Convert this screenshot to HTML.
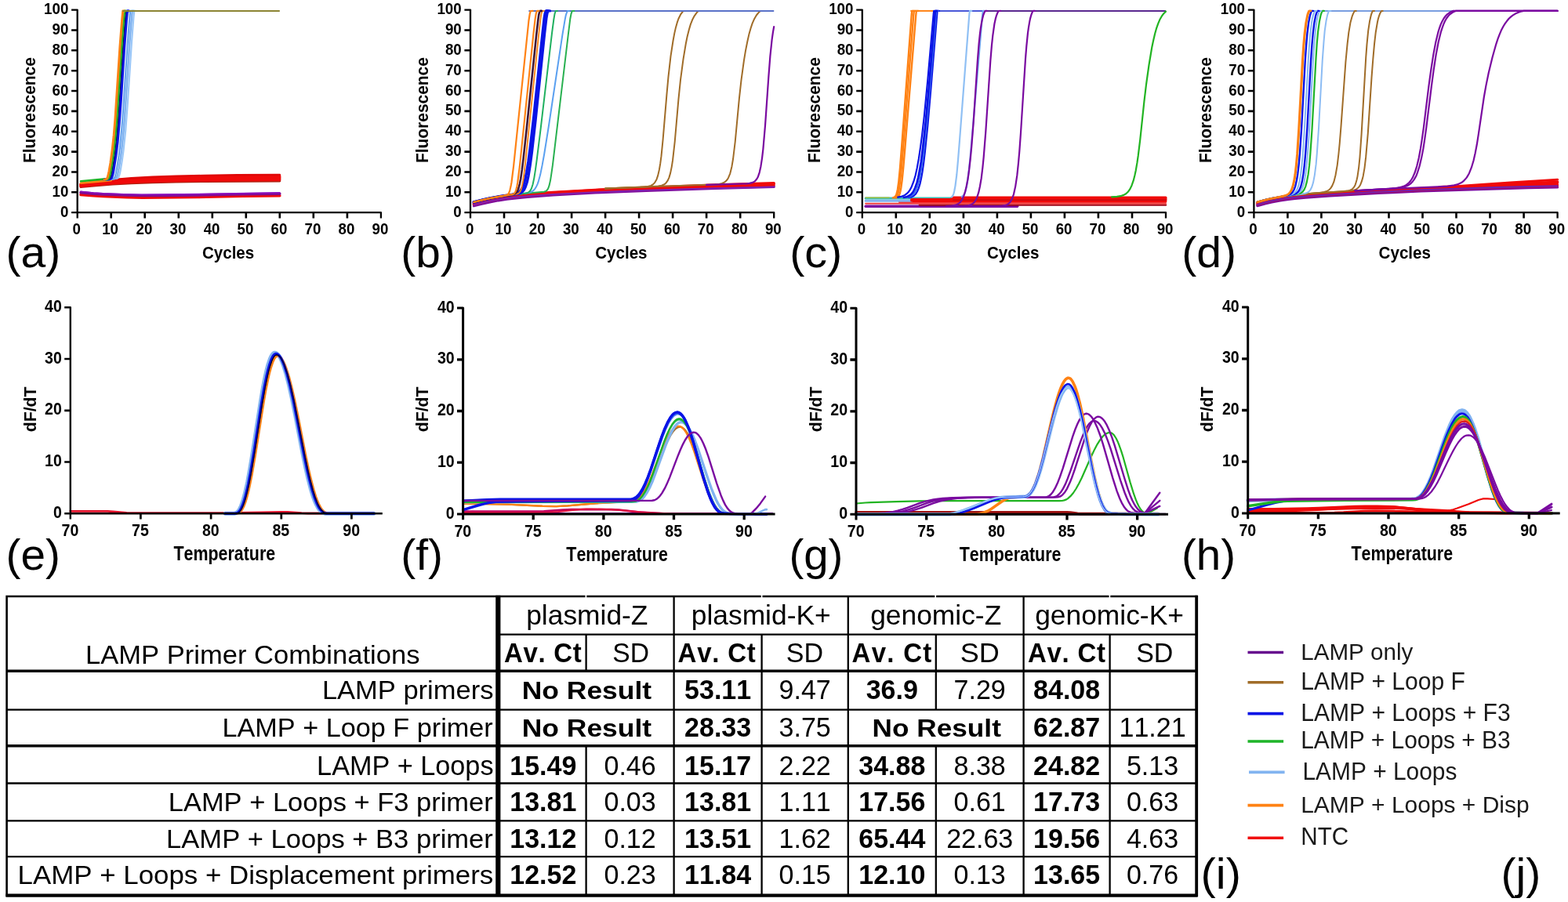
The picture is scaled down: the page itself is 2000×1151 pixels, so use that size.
<!DOCTYPE html>
<html><head><meta charset="utf-8"><title>LAMP primer combinations figure</title>
<style>html,body{margin:0;padding:0;background:#fff;}svg{display:block;filter:blur(0.45px);font-family:'Liberation Sans',Arial,sans-serif;font-kerning:none;}</style>
</head><body>
<svg width="2000" height="1151" viewBox="0 0 2000 1151">
<rect width="2000" height="1151" fill="#fff"/>
<g><polyline points="103,248.4 119.3,249.7 131.8,250.5 161.5,251.7 181.7,252.1 251.9,251.5 309.9,250.3 356.8,249.7" fill="none" stroke="#f00a0a" stroke-width="3.6" stroke-linejoin="round" stroke-linecap="round"/><polyline points="103,245.6 119.3,247.1 131.8,247.9 160.6,249 181.3,249.5 209.7,249.4 251.9,248.9 309.9,247.7 356.8,247.2" fill="none" stroke="#820a90" stroke-width="3.6" stroke-linejoin="round" stroke-linecap="round"/><polyline points="103,244.3 119.3,246 131,246.8 158.1,247.8 180,248.2 208.8,248.1 257.9,247.6 356.8,245.9" fill="none" stroke="#8a10c0" stroke-width="1.6" stroke-linejoin="round" stroke-linecap="round"/><polyline points="103,238.6 122.4,236.7 143.9,235.1 167.5,233.8 194.6,232.8 224.7,232 260.5,231.5 356.8,230.9" fill="none" stroke="#b02010" stroke-width="3.0" stroke-linejoin="round" stroke-linecap="round"/><polyline points="103,237.6 122.4,235.5 143.9,233.8 167.5,232.4 194.6,231.3 224.7,230.5 260.5,230 356.8,229.3" fill="none" stroke="#f00a0a" stroke-width="3.4" stroke-linejoin="round" stroke-linecap="round"/><polyline points="103,236.5 122.4,234.3 143.9,232.4 167.5,230.9 194.6,229.7 224.7,228.8 260.5,228.2 303,227.8 356.8,227.5" fill="none" stroke="#f00a0a" stroke-width="3.4" stroke-linejoin="round" stroke-linecap="round"/><polyline points="103,235.8 122.4,233.3 143.9,231.3 167.5,229.6 194.6,228.4 224.7,227.4 260.5,226.7 303,226.2 356.8,225.9" fill="none" stroke="#f00a0a" stroke-width="3.4" stroke-linejoin="round" stroke-linecap="round"/><polyline points="103,235 122.4,232.3 143.9,230.1 167.5,228.4 194.6,227 224.7,226 260.5,225.2 303,224.7 356.8,224.4" fill="none" stroke="#f00a0a" stroke-width="3.2" stroke-linejoin="round" stroke-linecap="round"/><polyline points="103,234.5 122.4,231.6 143.9,229.3 167.5,227.4 194.6,225.9 224.7,224.8 260.5,224 303,223.4 356.8,223.1" fill="none" stroke="#e00808" stroke-width="2.6" stroke-linejoin="round" stroke-linecap="round"/><polyline points="103,233.6 141.7,230.1" fill="none" stroke="#ff8214" stroke-width="2.6" stroke-linejoin="round" stroke-linecap="round"/><polyline points="103,231.2 139.6,227.9" fill="none" stroke="#1eb428" stroke-width="2.6" stroke-linejoin="round" stroke-linecap="round"/><polyline points="133.1,229.3 147.7,228 149.5,227.6 150.3,227.2 151.2,226.3 152,224.4 152.9,221.3 153.8,216.9 155.9,203.8 157.6,191.5 160.2,166.6 162.8,132.5 168,53.1 170.5,21.1 171.4,13.9 173.1,13.9" fill="none" stroke="#9cc8f8" stroke-width="2.2" stroke-linejoin="round" stroke-linecap="round"/><polyline points="133.1,229.3 145.2,228.2 146.9,227.8 147.7,227.4 148.6,226.5 149,225.7 149.9,223.3 151.6,214.7 153.8,201.2 155.1,191.7 156.8,176.1 158.1,161.8 160.2,132.7 165.4,53.3 168,21.4 168.8,13.9 170.5,13.9" fill="none" stroke="#82b4f0" stroke-width="2.6" stroke-linejoin="round" stroke-linecap="round"/><polyline points="133.1,229.3 143,228.4 144.7,227.9 145.6,227.3 146.5,226 146.9,224.9 147.7,221.7 149.9,209.7 151.6,198.5 152.9,188.4 155.5,162 157.6,133 162.4,59.7 165,26.3 166.2,13.9 168,13.9" fill="none" stroke="#6aa6ee" stroke-width="2.2" stroke-linejoin="round" stroke-linecap="round"/><polyline points="133.1,229.3 138.7,228.8 140.4,228.4 141.7,227.6 142.6,226.3 143.4,223.8 144.3,220 147.7,198.8 149.9,181 152,157 154.2,126.9 158.5,60.1 161.1,26.6 162.4,13.9 164.1,13.9" fill="none" stroke="#0a14e6" stroke-width="3.4" stroke-linejoin="round" stroke-linecap="round"/><polyline points="133.1,229.3 137.4,228.9 139.1,228.4 140.4,227.2 141.3,225.4 142.2,222.2 143.4,215.4 146.5,195.8 148.6,176.9 150.8,151.6 156.8,60.2 159.4,26.8 160.6,13.9 162.4,13.9" fill="none" stroke="#101060" stroke-width="1.4" stroke-linejoin="round" stroke-linecap="round"/><polyline points="133.1,229.3 136.1,228.9 137.4,228.5 138.3,227.7 138.7,227.1 139.6,224.9 140.4,221.4 141.7,214.3 144.7,194.3 146.9,174.8 148.6,154.6 150.3,130.5 155.1,57.3 157.2,29.4 158.5,15.8 158.9,13.9 160.6,13.9" fill="none" stroke="#1eb428" stroke-width="3.0" stroke-linejoin="round" stroke-linecap="round"/><polyline points="133.1,229.3 134.8,228.9 136.1,228.1 137,226.8 137.8,224.3 139.1,218.2 140.9,207.9 143.4,189.3 145.2,172.7 146.9,151.9 152.9,60.6 155.5,27.1 156.8,13.9 158.9,13.9" fill="none" stroke="#ff8214" stroke-width="3.0" stroke-linejoin="round" stroke-linecap="round"/><path d="M156.3 13.9H356.8" stroke="#8c8434" stroke-width="2.0"/></g><path d="M91.1 12.6H98.7V278.4" fill="none" stroke="#000" stroke-width="2.3" stroke-linejoin="round"/><path d="M91.1 271.2H485.9V278.4" fill="none" stroke="#000" stroke-width="2.3" stroke-linejoin="round"/><path d="M91.1 245.3H98.7M91.1 219.5H98.7M91.1 193.6H98.7M91.1 167.8H98.7M91.1 141.9H98.7M91.1 116H98.7M91.1 90.2H98.7M91.1 64.3H98.7M91.1 38.5H98.7M141.7 271.2V278.4M184.7 271.2V278.4M227.8 271.2V278.4M270.8 271.2V278.4M313.8 271.2V278.4M356.8 271.2V278.4M399.8 271.2V278.4M442.9 271.2V278.4" stroke="#000" stroke-width="2.6"/><g><text transform="matrix(0.9500 0 0 1.0400 77 276.7)" font-size="19.7" font-weight="bold">0</text><text transform="matrix(0.9500 0 0 1.0400 66.6 250.8)" font-size="19.7" font-weight="bold">10</text><text transform="matrix(0.9500 0 0 1.0400 66.6 225)" font-size="19.7" font-weight="bold">20</text><text transform="matrix(0.9500 0 0 1.0400 66.6 199.1)" font-size="19.7" font-weight="bold">30</text><text transform="matrix(0.9500 0 0 1.0400 66.6 173.3)" font-size="19.7" font-weight="bold">40</text><text transform="matrix(0.9500 0 0 1.0400 66.6 147.4)" font-size="19.7" font-weight="bold">50</text><text transform="matrix(0.9500 0 0 1.0400 66.6 121.5)" font-size="19.7" font-weight="bold">60</text><text transform="matrix(0.9500 0 0 1.0400 66.6 95.7)" font-size="19.7" font-weight="bold">70</text><text transform="matrix(0.9500 0 0 1.0400 66.6 69.8)" font-size="19.7" font-weight="bold">80</text><text transform="matrix(0.9500 0 0 1.0400 66.6 44)" font-size="19.7" font-weight="bold">90</text><text transform="matrix(0.9500 0 0 1.0400 56.1 18.1)" font-size="19.7" font-weight="bold">100</text><text transform="matrix(0.9500 0 0 1.0400 92.6 299.1)" font-size="19.7" font-weight="bold">0</text><text transform="matrix(0.9500 0 0 1.0400 130.2 299.1)" font-size="19.7" font-weight="bold">10</text><text transform="matrix(0.9500 0 0 1.0400 173.5 299.1)" font-size="19.7" font-weight="bold">20</text><text transform="matrix(0.9500 0 0 1.0400 216.6 299.1)" font-size="19.7" font-weight="bold">30</text><text transform="matrix(0.9500 0 0 1.0400 259.7 299.1)" font-size="19.7" font-weight="bold">40</text><text transform="matrix(0.9500 0 0 1.0400 302.6 299.1)" font-size="19.7" font-weight="bold">50</text><text transform="matrix(0.9500 0 0 1.0400 345.6 299.1)" font-size="19.7" font-weight="bold">60</text><text transform="matrix(0.9500 0 0 1.0400 388.5 299.1)" font-size="19.7" font-weight="bold">70</text><text transform="matrix(0.9500 0 0 1.0400 431.6 299.1)" font-size="19.7" font-weight="bold">80</text><text transform="matrix(0.9500 0 0 1.0400 474.6 299.1)" font-size="19.7" font-weight="bold">90</text></g><text transform="matrix(0.6863 0 0 0.7314 257.9 329.9)" font-size="30" font-weight="bold">Cycles</text><text transform="translate(44.5 208.1) rotate(-90) scale(0.9526 0.9849)" font-size="22" font-weight="bold">Fluorescence</text><g><polyline points="604.3,262.9 614.6,260.2 623.7,258.2 635.7,255.9 646.5,254.3 658.1,252.9 672.7,251.5 705.4,249.1 759.2,246.1 824.1,243.5 912.3,240.5 987.2,238.6" fill="none" stroke="#7a0aa0" stroke-width="3.0" stroke-linejoin="round" stroke-linecap="round"/><polyline points="604.3,261.6 614.6,258.9 623.7,256.9 635.7,254.6 646.5,253 658.1,251.6 672.7,250.2 705.4,247.8 759.2,244.8 824.1,242.2 912.3,239.2 987.2,237.3" fill="none" stroke="#a01070" stroke-width="3.0" stroke-linejoin="round" stroke-linecap="round"/><polyline points="604.3,260.3 614.6,257.6 623.7,255.6 635.7,253.3 646.5,251.7 658.1,250.3 672.7,248.9 705.4,246.5 759.2,243.6 824.1,240.9 912.3,237.9 987.2,236" fill="none" stroke="#f00a0a" stroke-width="3.0" stroke-linejoin="round" stroke-linecap="round"/><polyline points="604.3,259 614.6,256.3 623.7,254.3 635.7,252.1 646.5,250.4 658.1,249 672.7,247.6 705.4,245.2 759.2,242.3 824.1,239.6 912.3,236.6 987.2,234.7" fill="none" stroke="#f00a0a" stroke-width="3.0" stroke-linejoin="round" stroke-linecap="round"/><polyline points="604.3,260.3 614.6,257.5 623.7,255.5 635.7,253.1 646.5,251.4 658.1,250 672.7,248.5 705.4,245.9 759.2,242.6 824.1,239.5 912.3,236 987.2,233.7" fill="none" stroke="#f00a0a" stroke-width="3.4" stroke-linejoin="round" stroke-linecap="round"/><polyline points="604.3,261.4 614.6,258.7 623.7,256.7 635.7,254.5 646.5,252.9 658.1,251.6 672.7,250.2 705.4,248 759.2,245.2 824.1,242.8 912.3,240.2 987.2,238.6" fill="none" stroke="#8020b0" stroke-width="2.0" stroke-linejoin="round" stroke-linecap="round"/><polyline points="772.1,240.6 816.8,238.8 822.4,238.4 826.3,237.9 830.2,236.9 831.9,236 833.2,235.1 835.3,232.8 837.5,228.9 839.2,223.9 840.9,216.5 842.2,208.9 843.5,199.2 845.6,178 850.4,120.8 852.5,97.8 855.5,71.6 858.6,51.5 860.3,42.4 862,34.9 863.7,28.9 865.4,24 868,18.7 870.6,15.1 871.9,13.9 874,13.9" fill="none" stroke="#a06c28" stroke-width="2.0" stroke-linejoin="round" stroke-linecap="round"/><polyline points="772.1,240.6 829.7,238.3 839.6,237.6 843.9,236.7 846.9,235.5 848.2,234.6 849.5,233.4 851.7,230.4 853.4,226.6 855.1,220.9 856.8,212.6 858.1,204.2 860.7,181 865.4,127.1 868,101.9 871.5,75.6 874.9,55.2 876.6,46.8 878.8,38 880.9,30.9 883.1,25.3 885.7,20.3 888.7,16.1 890.8,14 891.2,13.9 893.4,13.9" fill="none" stroke="#a06c28" stroke-width="2.0" stroke-linejoin="round" stroke-linecap="round"/><polyline points="772.1,240.6 821.1,238.6 911.9,235.4 917.1,234.9 920.9,234 923.9,232.7 926.5,230.5 927.8,228.9 929.1,226.7 931.3,221.3 933.4,212.7 935.1,202.5 937.7,181 942.9,125.7 945.5,102.1 948.9,77.4 951,64.6 953.2,53.5 955.3,44.1 957.5,36.2 959.6,29.9 961.8,24.8 964.8,19.5 967.8,15.8 970,13.9 972.6,13.9" fill="none" stroke="#a06c28" stroke-width="2.0" stroke-linejoin="round" stroke-linecap="round"/><polyline points="901.1,235.9 947.2,234.5 952.8,234.3 956.2,233.9 960.1,232.9 962.7,231.4 964.8,229.1 966.1,227 967,225.2 968.7,220.1 970.4,212.4 972.1,201.3 973.4,190.1 976,160.1 980.3,98.5 982.4,71.5 984.6,50.7 985.9,41.4 987.2,34" fill="none" stroke="#7a0aa0" stroke-width="2.2" stroke-linejoin="round" stroke-linecap="round"/><path d="M674.4 13.9H987.2" stroke="#5a72c8" stroke-width="2.0"/><polyline points="604.3,258 613.8,255.5 622.4,253.5 633.6,251.4 643.5,249.8 661.9,247.6 693.8,244.7 695.5,244.3 696.8,243.6 698.1,242.3 698.9,241 699.8,238.9 700.7,236.1 702,230.3 703.2,222.6 705,210.2 724.8,44 727.3,24 728.6,17.3 729.5,14.8 729.9,14 730.4,13.9 732.5,13.9" fill="none" stroke="#28b050" stroke-width="2.0" stroke-linejoin="round" stroke-linecap="round"/><polyline points="604.3,258 619.8,254.1 635.3,251.1 647.3,249.2 669.3,246.8 674.9,245.8 677.9,244.7 680.4,243.1 682.6,240.6 684.3,237.7 685.6,234.8 686.9,231.1 689.1,223.1 691.6,210.9 694.2,196.5 699.8,161.5 717.4,44.4 720.5,25.8 721.7,19.6 723,15.7 723.9,14.2 724.3,13.9 726,13.9" fill="none" stroke="#5aa0f0" stroke-width="2.0" stroke-linejoin="round" stroke-linecap="round"/><polyline points="604.3,258 619.8,254.1 635.3,251.1 647.8,249.2 667.5,247 671.4,246.4 673.6,245.6 675.3,244.5 676.6,242.9 677.9,240.5 679.6,235.2 681.3,227.1 683,216.4 684.7,203.9 689.5,165.4 704.1,41.7 706.3,25 707.5,17.8 708.4,15.1 708.8,14.2 709.3,13.9 711,13.9" fill="none" stroke="#20b060" stroke-width="2.0" stroke-linejoin="round" stroke-linecap="round"/><polyline points="604.3,258 616.3,254.9 627.1,252.6 639.6,250.4 657.6,247.9 661.9,247 664.5,245.9 666.7,244.3 668.4,242.2 670.1,238.8 672.3,232.1 674,224.3 676.1,211.2 678.3,195.1 683,153.5 694.6,42.3 696.8,23.5 697.7,18.2 698.1,16.3 698.9,14.1 699.4,13.9 701.5,13.9" fill="none" stroke="#0a14e6" stroke-width="3.4" stroke-linejoin="round" stroke-linecap="round"/><polyline points="604.3,258 615.1,255.2 624.5,253.1 638.3,250.6 653.8,248.2 658.1,247.2 661.1,245.9 662.4,244.9 663.7,243.7 665.8,240.6 667.5,236.7 669.7,229.5 671.8,219.3 674,206 676.1,190 680.9,148.9 692.1,42.4 694.2,23.6 695.1,18.2 695.5,16.4 696.4,14.1 696.8,13.9 698.9,13.9" fill="none" stroke="#0a14e6" stroke-width="3.6" stroke-linejoin="round" stroke-linecap="round"/><polyline points="604.3,258 616.8,254.8 628,252.4 641.3,250.1 656.4,248.1 659.4,247.6 661.1,246.9 662.4,245.9 663.7,244.1 664.5,242.2 665.8,237.7 667.1,231 668.4,222.1 670.1,207.9 687.3,42.8 689.5,23.9 690.3,18.4 691.2,15.1 691.6,14.2 692.1,13.9 693.8,13.9" fill="none" stroke="#ff8214" stroke-width="1.8" stroke-linejoin="round" stroke-linecap="round"/><polyline points="604.3,258 615.1,255.2 625,253 637,250.8 651.6,248.6 654.6,248 656.8,247.1 658.5,245.8 659.8,244 661.1,241.2 662.8,235.1 664.1,228.5 665.8,216.9 667.5,203.1 671.8,163.5 684.3,43.1 686.5,24.1 687.3,18.6 688.2,15.2 688.6,14.2 689.1,13.9 690.8,13.9" fill="none" stroke="#401838" stroke-width="2.6" stroke-linejoin="round" stroke-linecap="round"/><polyline points="604.3,258 615.1,255.2 625,253 637.4,250.7 653.3,248.2 655.1,247.5 656.4,246.3 657.2,245 658.1,242.9 659.4,237.8 660.2,233 662.8,213 680.4,43.4 682.6,24.3 683.5,18.7 683.9,16.7 684.7,14.3 685.2,13.9 687.3,13.9" fill="none" stroke="#ff8214" stroke-width="2.2" stroke-linejoin="round" stroke-linecap="round"/><polyline points="604.3,258 613.3,255.6 621.5,253.7 631.4,251.8 643,249.8 645.6,249.2 647.3,248.3 648.6,247 649.5,245.4 650.3,243.1 651.6,237.6 652.5,232.5 655.1,211.9 674.4,26.5 675.7,18 676.6,14.9 677,14 679.6,13.9" fill="none" stroke="#ff8214" stroke-width="2.2" stroke-linejoin="round" stroke-linecap="round"/></g><path d="M592.4 12.6H600V278.4" fill="none" stroke="#000" stroke-width="2.3" stroke-linejoin="round"/><path d="M592.4 271.2H987.2V278.4" fill="none" stroke="#000" stroke-width="2.3" stroke-linejoin="round"/><path d="M592.4 245.3H600M592.4 219.5H600M592.4 193.6H600M592.4 167.8H600M592.4 141.9H600M592.4 116H600M592.4 90.2H600M592.4 64.3H600M592.4 38.5H600M643 271.2V278.4M686 271.2V278.4M729.1 271.2V278.4M772.1 271.2V278.4M815.1 271.2V278.4M858.1 271.2V278.4M901.1 271.2V278.4M944.2 271.2V278.4" stroke="#000" stroke-width="2.6"/><g><text transform="matrix(0.9500 0 0 1.0400 578.3 276.7)" font-size="19.7" font-weight="bold">0</text><text transform="matrix(0.9500 0 0 1.0400 567.9 250.8)" font-size="19.7" font-weight="bold">10</text><text transform="matrix(0.9500 0 0 1.0400 567.9 225)" font-size="19.7" font-weight="bold">20</text><text transform="matrix(0.9500 0 0 1.0400 567.9 199.1)" font-size="19.7" font-weight="bold">30</text><text transform="matrix(0.9500 0 0 1.0400 567.9 173.3)" font-size="19.7" font-weight="bold">40</text><text transform="matrix(0.9500 0 0 1.0400 567.9 147.4)" font-size="19.7" font-weight="bold">50</text><text transform="matrix(0.9500 0 0 1.0400 567.9 121.5)" font-size="19.7" font-weight="bold">60</text><text transform="matrix(0.9500 0 0 1.0400 567.9 95.7)" font-size="19.7" font-weight="bold">70</text><text transform="matrix(0.9500 0 0 1.0400 567.9 69.8)" font-size="19.7" font-weight="bold">80</text><text transform="matrix(0.9500 0 0 1.0400 567.9 44)" font-size="19.7" font-weight="bold">90</text><text transform="matrix(0.9500 0 0 1.0400 557.4 18.1)" font-size="19.7" font-weight="bold">100</text><text transform="matrix(0.9500 0 0 1.0400 593.9 299.1)" font-size="19.7" font-weight="bold">0</text><text transform="matrix(0.9500 0 0 1.0400 631.5 299.1)" font-size="19.7" font-weight="bold">10</text><text transform="matrix(0.9500 0 0 1.0400 674.8 299.1)" font-size="19.7" font-weight="bold">20</text><text transform="matrix(0.9500 0 0 1.0400 717.9 299.1)" font-size="19.7" font-weight="bold">30</text><text transform="matrix(0.9500 0 0 1.0400 761 299.1)" font-size="19.7" font-weight="bold">40</text><text transform="matrix(0.9500 0 0 1.0400 803.9 299.1)" font-size="19.7" font-weight="bold">50</text><text transform="matrix(0.9500 0 0 1.0400 846.9 299.1)" font-size="19.7" font-weight="bold">60</text><text transform="matrix(0.9500 0 0 1.0400 889.8 299.1)" font-size="19.7" font-weight="bold">70</text><text transform="matrix(0.9500 0 0 1.0400 932.9 299.1)" font-size="19.7" font-weight="bold">80</text><text transform="matrix(0.9500 0 0 1.0400 975.9 299.1)" font-size="19.7" font-weight="bold">90</text></g><text transform="matrix(0.6863 0 0 0.7314 759.2 329.9)" font-size="30" font-weight="bold">Cycles</text><text transform="translate(545.8 208.1) rotate(-90) scale(0.9526 0.9849)" font-size="22" font-weight="bold">Fluorescence</text><g><polyline points="1104.1,263.2 1297.7,263.2" fill="none" stroke="#7a0aa0" stroke-width="3.4" stroke-linejoin="round" stroke-linecap="round"/><polyline points="1172.9,261.6 1487,261.6" fill="none" stroke="#a00818" stroke-width="2.4" stroke-linejoin="round" stroke-linecap="round"/><polyline points="1104.1,259.8 1487,259.8" fill="none" stroke="#f04040" stroke-width="2.0" stroke-linejoin="round" stroke-linecap="round"/><polyline points="1147.1,257.5 1487,257.5" fill="none" stroke="#f00a0a" stroke-width="2.4" stroke-linejoin="round" stroke-linecap="round"/><polyline points="1104.1,256.2 1162.6,256.2" fill="none" stroke="#82b4f0" stroke-width="3.0" stroke-linejoin="round" stroke-linecap="round"/><polyline points="1104.1,253.1 1214.2,253.1" fill="none" stroke="#3cbcb4" stroke-width="3.0" stroke-linejoin="round" stroke-linecap="round"/><polyline points="1104.1,252.3 1134.2,252.3" fill="none" stroke="#a0c040" stroke-width="1.4" stroke-linejoin="round" stroke-linecap="round"/><polyline points="1162.6,255.9 1487,255.9" fill="none" stroke="#f00a0a" stroke-width="3.0" stroke-linejoin="round" stroke-linecap="round"/><polyline points="1162.6,254.4 1487,254.4" fill="none" stroke="#f00a0a" stroke-width="3.0" stroke-linejoin="round" stroke-linecap="round"/><polyline points="1214.2,253.1 1487,253.1" fill="none" stroke="#f00a0a" stroke-width="3.0" stroke-linejoin="round" stroke-linecap="round"/><polyline points="1214.2,252.1 1487,252.1" fill="none" stroke="#f00a0a" stroke-width="3.0" stroke-linejoin="round" stroke-linecap="round"/><polyline points="1216,255.2 1487,255.2" fill="none" stroke="#c80810" stroke-width="1.6" stroke-linejoin="round" stroke-linecap="round"/><path d="M1161.3 13.9H1192.3" stroke="#ff8214" stroke-width="2.0"/><path d="M1190.1 13.9H1259" stroke="#4a58d8" stroke-width="2.0"/><path d="M1256.8 13.9H1487" stroke="#5a2890" stroke-width="2.0"/><polyline points="1142.8,252.3 1144.5,251.8 1145.8,250.8 1146.7,249.5 1147.6,247.4 1148.4,244.3 1149.3,239.7 1150.6,230.1 1152.3,213.1 1154.4,188.4 1168.2,20 1168.6,16.1 1169.1,13.9 1171.2,13.9" fill="none" stroke="#ff8214" stroke-width="2.4" stroke-linejoin="round" stroke-linecap="round"/><polyline points="1140.7,252.3 1142,252 1143.3,251.1 1144.1,250.1 1145,248.4 1145.8,245.7 1146.7,241.7 1148,232.7 1149.7,216 1151.9,190.6 1165.2,19.7 1165.6,15.8 1166.1,13.9 1168.2,13.9" fill="none" stroke="#ff8214" stroke-width="2.4" stroke-linejoin="round" stroke-linecap="round"/><polyline points="1138.9,252.3 1140.2,251.9 1141.5,251.1 1142.4,250 1143.3,248.2 1144.1,245.4 1145,241.2 1146.3,231.8 1148,214.3 1150.1,187.7 1162.6,20.4 1163,16.1 1163.5,13.9 1165.6,13.9" fill="none" stroke="#ff8214" stroke-width="2.4" stroke-linejoin="round" stroke-linecap="round"/><polyline points="1159.2,252 1162.6,251.3 1164.3,250.6 1165.6,249.8 1167.8,247.8 1169.9,244.5 1171.6,240.6 1173.4,234.9 1175.1,227.3 1176.4,220 1178.1,208.3 1179.8,194.2 1183.3,160.4 1187.1,116.4 1195.3,17.3 1195.7,14.4 1196.2,13.9 1197.9,13.9" fill="none" stroke="#0a14e6" stroke-width="2.2" stroke-linejoin="round" stroke-linecap="round"/><polyline points="1155.9,252 1159.8,251.1 1162.8,249.7 1165.4,247.4 1167.5,244.3 1169.3,240.6 1171,235.6 1172.7,228.9 1174.4,220.2 1176.1,209.3 1177.9,196.4 1181.7,160.4 1186.5,107.7 1193.8,19.4 1194.2,15.6 1194.6,13.9 1196.8,13.9" fill="none" stroke="#3a6af0" stroke-width="2.0" stroke-linejoin="round" stroke-linecap="round"/><polyline points="1152.7,251.9 1157,251 1160,249.5 1162.6,247.4 1163.9,245.9 1165.2,244 1167.3,239.5 1169.5,233.1 1171.2,226.3 1172.9,217.6 1174.7,207 1176.8,191 1180.7,155.3 1185,108.5 1192.7,16.8 1193.2,14.2 1193.6,13.9 1195.3,13.9" fill="none" stroke="#0a14e6" stroke-width="2.6" stroke-linejoin="round" stroke-linecap="round"/><polyline points="1145.2,251.7 1150.4,250.6 1152.5,249.8 1154.2,248.9 1157.2,246.6 1159,244.7 1160.3,242.9 1162.8,238.2 1165.4,231.5 1167.6,224 1169.7,214.4 1171.9,202.4 1174,188.1 1176.2,171.4 1178.8,148.5 1183.5,100.1 1190.8,16.9 1191.2,14.2 1191.7,13.9 1193.4,13.9" fill="none" stroke="#0a14e6" stroke-width="2.2" stroke-linejoin="round" stroke-linecap="round"/><polyline points="1213.8,251.4 1214.7,250.6 1215.5,249.2 1216.4,247.1 1217.2,244 1218.5,237.1 1220.3,223 1222,204.4 1224.1,178 1236.2,20.2 1236.6,16 1237,13.9 1239.2,13.9" fill="none" stroke="#90c0f4" stroke-width="2.2" stroke-linejoin="round" stroke-linecap="round"/><polyline points="1226.7,251 1228,250.2 1229.3,248.8 1230.6,246.4 1231.4,244 1232.7,238.8 1233.6,234.1 1235.3,221.8 1237.5,201.6 1240,173.2 1253,20 1253.8,13.9 1255.5,13.9" fill="none" stroke="#70a8f0" stroke-width="2.2" stroke-linejoin="round" stroke-linecap="round"/><polyline points="1207.3,263 1213.8,262.7 1218.1,261.9 1221.5,260.5 1223.3,259.4 1224.6,258.2 1225.8,256.7 1227.1,254.7 1229.3,250.1 1231,244.9 1232.7,237.8 1234.5,228.5 1236.2,216.4 1237.9,201.2 1239.2,187.5 1241.8,154.4 1246.9,77 1248.6,55.8 1249.9,43.3 1250.8,36.5 1252.1,28.4 1253,24.2 1254.2,19.4 1255.1,17 1256.4,14.2 1256.8,13.9 1259,13.9" fill="none" stroke="#7a0aa0" stroke-width="2.2" stroke-linejoin="round" stroke-linecap="round"/><polyline points="1207.3,263.2 1222.4,263.1 1229.7,262.9 1234.9,262.3 1238.3,261.3 1240,260.4 1241.3,259.4 1242.6,258.1 1243.9,256.4 1246.1,252.2 1248.2,245.7 1249.9,238 1251.7,227.5 1253.4,213.5 1254.7,200.4 1257.3,167.8 1263.3,77.7 1265,57.4 1266.3,45.3 1268.4,30.5 1269.7,24.4 1271,19.8 1272.3,16.5 1273.6,14 1276.2,13.9" fill="none" stroke="#7a0aa0" stroke-width="2.2" stroke-linejoin="round" stroke-linecap="round"/><polyline points="1207.3,263.2 1266.7,263.2 1273.6,263 1278.3,262.7 1282.6,261.9 1284.4,261.2 1286.1,260.2 1287.4,259.1 1288.7,257.6 1290.8,253.8 1293,247.8 1295.1,238.3 1297.3,223.9 1299,207.9 1300.3,193.1 1302,169.5 1308,74.9 1309.3,58.9 1311,42.1 1311.9,35.6 1313.2,27.9 1314,23.9 1315.3,19.2 1316.2,16.8 1317.5,14.1 1317.9,13.9 1320.1,13.9" fill="none" stroke="#7a0aa0" stroke-width="2.2" stroke-linejoin="round" stroke-linecap="round"/><polyline points="1418.1,251.3 1424.6,250.9 1429.3,250.2 1433.2,248.9 1436.2,247.2 1438.8,244.8 1441.4,241.1 1443.5,236.7 1445.7,230.4 1447.4,223.8 1448.7,217.7 1450.4,207.9 1451.7,199 1454.3,177.9 1459.4,129.7 1462,107.8 1465.5,83 1469.3,60.2 1471.1,51.8 1473.2,42.8 1474.9,36.7 1477.1,30.4 1479.2,25.3 1481.8,20.7 1484.4,17.2 1487,14.6" fill="none" stroke="#22b422" stroke-width="2.2" stroke-linejoin="round" stroke-linecap="round"/></g><path d="M1092.2 12.6H1099.8V278.4" fill="none" stroke="#000" stroke-width="2.3" stroke-linejoin="round"/><path d="M1092.2 271.2H1487V278.4" fill="none" stroke="#000" stroke-width="2.3" stroke-linejoin="round"/><path d="M1092.2 245.3H1099.8M1092.2 219.5H1099.8M1092.2 193.6H1099.8M1092.2 167.8H1099.8M1092.2 141.9H1099.8M1092.2 116H1099.8M1092.2 90.2H1099.8M1092.2 64.3H1099.8M1092.2 38.5H1099.8M1142.8 271.2V278.4M1185.8 271.2V278.4M1228.9 271.2V278.4M1271.9 271.2V278.4M1314.9 271.2V278.4M1357.9 271.2V278.4M1400.9 271.2V278.4M1444 271.2V278.4" stroke="#000" stroke-width="2.6"/><g><text transform="matrix(0.9500 0 0 1.0400 1078.1 276.7)" font-size="19.7" font-weight="bold">0</text><text transform="matrix(0.9500 0 0 1.0400 1067.7 250.8)" font-size="19.7" font-weight="bold">10</text><text transform="matrix(0.9500 0 0 1.0400 1067.7 225)" font-size="19.7" font-weight="bold">20</text><text transform="matrix(0.9500 0 0 1.0400 1067.7 199.1)" font-size="19.7" font-weight="bold">30</text><text transform="matrix(0.9500 0 0 1.0400 1067.7 173.3)" font-size="19.7" font-weight="bold">40</text><text transform="matrix(0.9500 0 0 1.0400 1067.7 147.4)" font-size="19.7" font-weight="bold">50</text><text transform="matrix(0.9500 0 0 1.0400 1067.7 121.5)" font-size="19.7" font-weight="bold">60</text><text transform="matrix(0.9500 0 0 1.0400 1067.7 95.7)" font-size="19.7" font-weight="bold">70</text><text transform="matrix(0.9500 0 0 1.0400 1067.7 69.8)" font-size="19.7" font-weight="bold">80</text><text transform="matrix(0.9500 0 0 1.0400 1067.7 44)" font-size="19.7" font-weight="bold">90</text><text transform="matrix(0.9500 0 0 1.0400 1057.2 18.1)" font-size="19.7" font-weight="bold">100</text><text transform="matrix(0.9500 0 0 1.0400 1093.7 299.1)" font-size="19.7" font-weight="bold">0</text><text transform="matrix(0.9500 0 0 1.0400 1131.3 299.1)" font-size="19.7" font-weight="bold">10</text><text transform="matrix(0.9500 0 0 1.0400 1174.6 299.1)" font-size="19.7" font-weight="bold">20</text><text transform="matrix(0.9500 0 0 1.0400 1217.7 299.1)" font-size="19.7" font-weight="bold">30</text><text transform="matrix(0.9500 0 0 1.0400 1260.8 299.1)" font-size="19.7" font-weight="bold">40</text><text transform="matrix(0.9500 0 0 1.0400 1303.7 299.1)" font-size="19.7" font-weight="bold">50</text><text transform="matrix(0.9500 0 0 1.0400 1346.7 299.1)" font-size="19.7" font-weight="bold">60</text><text transform="matrix(0.9500 0 0 1.0400 1389.6 299.1)" font-size="19.7" font-weight="bold">70</text><text transform="matrix(0.9500 0 0 1.0400 1432.7 299.1)" font-size="19.7" font-weight="bold">80</text><text transform="matrix(0.9500 0 0 1.0400 1475.7 299.1)" font-size="19.7" font-weight="bold">90</text></g><text transform="matrix(0.6863 0 0 0.7314 1259 329.9)" font-size="30" font-weight="bold">Cycles</text><text transform="translate(1045.6 208.1) rotate(-90) scale(0.9526 0.9849)" font-size="22" font-weight="bold">Fluorescence</text><g><polyline points="1603.7,262.7 1613.6,260 1622.2,258.1 1633,256.1 1643.3,254.5 1651.9,253.5 1665.2,252.3 1696.6,250.1 1758.1,246.6 1812.3,244.1 1908.7,240.9 1949.2,239.8 1986.6,239.1" fill="none" stroke="#7a0aa0" stroke-width="3.0" stroke-linejoin="round" stroke-linecap="round"/><polyline points="1603.7,261.4 1613.6,258.7 1622.2,256.8 1633,254.8 1643.3,253.2 1651.9,252.2 1665.2,251 1696.6,248.8 1758.1,245.3 1812.3,242.8 1908.7,239.6 1949.2,238.5 1986.6,237.8" fill="none" stroke="#a01070" stroke-width="3.0" stroke-linejoin="round" stroke-linecap="round"/><polyline points="1603.7,260.1 1613.6,257.4 1622.2,255.5 1633,253.5 1643.3,252 1651.9,250.9 1665.2,249.7 1696.6,247.5 1758.1,244 1812.3,241.5 1908.7,238.3 1949.2,237.3 1986.6,236.5" fill="none" stroke="#f00a0a" stroke-width="3.0" stroke-linejoin="round" stroke-linecap="round"/><polyline points="1603.7,258.8 1613.6,256.2 1622.2,254.2 1633,252.2 1643.3,250.7 1651.9,249.6 1665.2,248.4 1696.6,246.2 1758.1,242.7 1812.3,240.2 1908.7,237 1949.2,236 1986.6,235.3" fill="none" stroke="#f00a0a" stroke-width="3.0" stroke-linejoin="round" stroke-linecap="round"/><polyline points="1771.5,243.3 1814.5,241.5 1873,238 1922.5,235.3 1986.6,232.4" fill="none" stroke="#f00a0a" stroke-width="3.6" stroke-linejoin="round" stroke-linecap="round"/><polyline points="1836,238.6 1857.5,237.8 1926.4,233 1986.6,229.3" fill="none" stroke="#f00a0a" stroke-width="3.0" stroke-linejoin="round" stroke-linecap="round"/><polyline points="1603.7,260.9 1613.6,258.2 1622.2,256.3 1633,254.3 1643.3,252.7 1651.9,251.7 1665.2,250.5 1696.6,248.3 1758.1,244.8 1812.3,242.3 1908.7,239.1 1949.2,238 1986.6,237.3" fill="none" stroke="#7020b0" stroke-width="2.0" stroke-linejoin="round" stroke-linecap="round"/><path d="M1669.5 13.9H1986.6" stroke="#7a9ee0" stroke-width="2.0"/><polyline points="1603.7,257.8 1614,255 1623.1,253 1635.5,250.8 1646.7,249.2 1670.4,247 1716,244 1724.2,243.2 1727.6,242.4 1730.2,241.3 1732.3,239.7 1734.1,237.6 1735.3,235.4 1736.6,232.2 1737.9,227.9 1738.8,224.2 1740.5,214.3 1742.2,200.2 1744.8,170.2 1749.5,98.9 1751.3,75.5 1753,56.3 1754.7,41.5 1756.9,28.5 1757.7,24.7 1759,20.3 1760.3,16.9 1762,13.9 1763.7,13.9" fill="none" stroke="#a06c28" stroke-width="2.0" stroke-linejoin="round" stroke-linecap="round"/><polyline points="1603.7,257.8 1614,255 1623.1,253 1635.1,250.8 1646.3,249.2 1669.5,247 1711.7,244.2 1718.6,243.6 1721.6,242.9 1723.7,242 1725.4,240.7 1727.2,238.6 1728.5,236.2 1729.3,233.9 1730.6,229.3 1731.5,225.1 1733.2,213.3 1734.5,200.6 1736.6,171.1 1742.2,73.7 1743.5,56.4 1745.2,39.1 1747,27.3 1748.7,19.8 1749.5,17.1 1750.8,14.2 1751.3,13.9 1753,13.9" fill="none" stroke="#a06c28" stroke-width="2.0" stroke-linejoin="round" stroke-linecap="round"/><polyline points="1603.7,257.8 1612.7,255.3 1620.9,253.4 1629.9,251.7 1639.4,250.2 1654.5,248.4 1682.9,245.9 1688.9,245 1692.3,244 1694.9,242.5 1697.1,240.4 1699.2,237.1 1701.4,231.9 1703.5,223.5 1705.7,210.8 1707.4,196.5 1708.7,183.3 1710.4,162.3 1716.4,79 1718.6,55.8 1720.3,41.7 1722.4,29.1 1724.6,21 1725.9,17.6 1727.6,14.4 1728,13.9 1729.8,13.9" fill="none" stroke="#a06c28" stroke-width="2.0" stroke-linejoin="round" stroke-linecap="round"/><polyline points="1603.7,257.8 1617,254.3 1628.7,252 1641.1,249.9 1660.1,247.7 1664.8,246.8 1667.8,245.6 1670,244 1671.7,241.8 1673.4,238.3 1675.1,232.6 1676.8,223.6 1678.6,209.9 1679.8,195.8 1682,164 1686.7,77.7 1688.5,53.1 1689.7,39.4 1691.5,26.8 1693.2,18.9 1694.9,14.2 1695.3,13.9 1697.5,13.9" fill="none" stroke="#8cbcf4" stroke-width="2.0" stroke-linejoin="round" stroke-linecap="round"/><polyline points="1603.7,257.8 1614.5,254.9 1623.9,252.8 1637.3,250.5 1652.7,248.3 1657,247.3 1659.6,246.2 1661.8,244.4 1663.5,242 1665.2,238.1 1666.9,231.9 1668.7,222.2 1670,211.7 1671.2,197.8 1673.4,166.6 1678.6,73 1679.8,54.8 1681.1,40.7 1682.9,27.6 1684.6,19.4 1685.9,15.5 1686.7,13.9 1688.9,13.9" fill="none" stroke="#1eb428" stroke-width="2.2" stroke-linejoin="round" stroke-linecap="round"/><polyline points="1603.7,257.8 1613.6,255.1 1622.6,253.1 1634.2,251 1649.3,248.7 1653.6,247.7 1656.2,246.5 1658.3,244.7 1660.1,242.3 1661.8,238.4 1663.5,232.2 1665.2,222.4 1666.5,211.9 1667.8,198 1670,166.7 1675.1,73.1 1676.4,54.9 1677.7,40.7 1679.4,27.6 1681.1,19.4 1682.4,15.5 1683.3,13.9 1685.4,13.9" fill="none" stroke="#82b4f0" stroke-width="2.0" stroke-linejoin="round" stroke-linecap="round"/><polyline points="1603.7,257.8 1613.2,255.2 1621.3,253.3 1631.7,251.4 1646.3,249 1651,247.9 1653.6,246.6 1655.8,244.7 1657.5,242.1 1659.2,238 1660.9,231.4 1662.6,221.1 1663.9,210 1665.2,195.6 1667.4,163.2 1672.1,76.6 1673.4,57.7 1674.7,42.8 1676.4,28.9 1678.1,20.2 1679,17.3 1680.3,14.1 1680.7,13.9 1682.4,13.9" fill="none" stroke="#0a14e6" stroke-width="2.4" stroke-linejoin="round" stroke-linecap="round"/><polyline points="1603.7,257.8 1612.3,255.4 1619.6,253.7 1627.8,252.1 1642.9,249.5 1645.9,248.8 1648,248.1 1650.6,246.7 1652.7,244.5 1654.5,241.7 1656.2,237.1 1657.9,229.7 1659.2,221.7 1660.5,210.7 1661.8,196.3 1663.9,164.1 1668.7,77.3 1670,58.3 1671.2,43.3 1673,29.2 1673.8,24.3 1675.1,18.8 1676.8,14.2 1677.3,13.9 1679.4,13.9" fill="none" stroke="#82b4f0" stroke-width="2.0" stroke-linejoin="round" stroke-linecap="round"/><polyline points="1603.7,257.8 1617.9,254.1 1639,250.1 1642,249.3 1644.1,248.6 1646.7,247.1 1648.9,244.9 1650.6,242 1652.3,237.3 1654,229.8 1655.3,221.7 1656.6,210.6 1657.9,196.1 1660.1,163.6 1664.8,76.7 1666.1,57.8 1667.4,42.9 1669.1,29 1670.8,20.2 1671.7,17.3 1673,14.1 1673.4,13.9 1675.1,13.9" fill="none" stroke="#0a14e6" stroke-width="2.4" stroke-linejoin="round" stroke-linecap="round"/><polyline points="1603.7,257.8 1618.8,253.9 1637.3,250.2 1641.6,248.9 1644.1,247.3 1646.3,244.9 1648,241.8 1649.7,236.8 1651.5,228.9 1652.7,220.3 1654,208.7 1655.3,193.5 1657.5,160 1662.2,73.4 1663.5,55.1 1664.8,40.9 1666.5,27.6 1668.2,19.4 1669.5,15.5 1670.4,13.9 1672.5,13.9" fill="none" stroke="#c07020" stroke-width="2.0" stroke-linejoin="round" stroke-linecap="round"/><polyline points="1603.7,257.8 1618.3,254 1636.4,250.4 1640.7,249.1 1643.3,247.6 1645.4,245.4 1647.2,242.4 1648.9,237.8 1650.6,230.4 1651.9,222.3 1653.2,211.3 1654.5,196.9 1656.6,164.6 1661.3,77.5 1662.6,58.4 1663.9,43.4 1665.7,29.3 1667.4,20.4 1668.2,17.4 1669.5,14.2 1670,13.9 1671.7,13.9" fill="none" stroke="#ff8214" stroke-width="2.8" stroke-linejoin="round" stroke-linecap="round"/><polyline points="1728.5,243.3 1772.8,240.9 1833.4,238.4 1846.3,237.6 1853.2,236.7 1858.8,235.4 1863.1,233.6 1865.3,232.2 1867,230.8 1869.1,228.6 1870.9,226.4 1873.9,221.2 1876.9,213.7 1879.5,205 1881.6,195.7 1883.8,184.3 1885.9,170.9 1892.8,124 1895.4,109.4 1898.8,92.8 1903.6,73 1908.3,56.3 1910.4,49.8 1912.6,44.1 1914.7,39.1 1917.3,34 1919.5,30.4 1922.1,26.8 1924.6,23.8 1927.2,21.4 1929.8,19.4 1932.8,17.6 1936.2,16 1939.7,14.8 1943.6,13.9 1986.6,13.9" fill="none" stroke="#7a0aa0" stroke-width="2.2" stroke-linejoin="round" stroke-linecap="round"/><polyline points="1728.5,243.3 1775.4,240.6 1783.1,239.9 1788.7,239 1793.9,237.5 1796,236.5 1798.2,235.1 1800.3,233.3 1802,231.4 1803.7,229.1 1805,226.9 1806.8,223.4 1808,220.2 1810.6,212 1813.2,201.1 1815.4,189.6 1817.1,178.7 1819.2,163.3 1825.7,111.3 1828.7,88.9 1831.7,69.5 1834.7,53.7 1837.7,41.4 1839.5,35.8 1841.2,31.1 1842.9,27.3 1845,23.5 1847.2,20.5 1849.3,18.3 1852.8,15.8 1854.9,14.7 1857.1,13.9 1986.6,13.9" fill="none" stroke="#7a0aa0" stroke-width="2.2" stroke-linejoin="round" stroke-linecap="round"/><polyline points="1728.5,243.3 1772.3,240.8 1780.1,240 1785.7,239.1 1788.3,238.4 1790.8,237.5 1793,236.4 1795.1,234.9 1797.3,233 1799,231 1800.7,228.5 1802,226.2 1804.6,220.3 1807.2,212.1 1809.8,201.2 1811.9,189.7 1813.6,178.8 1815.8,163.4 1822.2,111.4 1825.3,89 1828.3,69.6 1831.3,53.7 1834.3,41.4 1836,35.8 1837.7,31.1 1839.5,27.3 1841.6,23.5 1843.8,20.5 1845.9,18.3 1849.3,15.8 1851.5,14.7 1853.6,13.9 1986.6,13.9" fill="none" stroke="#7a0aa0" stroke-width="2.2" stroke-linejoin="round" stroke-linecap="round"/></g><path d="M1591.8 12.6H1599.4V278.4" fill="none" stroke="#000" stroke-width="2.3" stroke-linejoin="round"/><path d="M1591.8 271.2H1986.6V278.4" fill="none" stroke="#000" stroke-width="2.3" stroke-linejoin="round"/><path d="M1591.8 245.3H1599.4M1591.8 219.5H1599.4M1591.8 193.6H1599.4M1591.8 167.8H1599.4M1591.8 141.9H1599.4M1591.8 116H1599.4M1591.8 90.2H1599.4M1591.8 64.3H1599.4M1591.8 38.5H1599.4M1642.4 271.2V278.4M1685.4 271.2V278.4M1728.5 271.2V278.4M1771.5 271.2V278.4M1814.5 271.2V278.4M1857.5 271.2V278.4M1900.5 271.2V278.4M1943.6 271.2V278.4" stroke="#000" stroke-width="2.6"/><g><text transform="matrix(0.9500 0 0 1.0400 1577.7 276.7)" font-size="19.7" font-weight="bold">0</text><text transform="matrix(0.9500 0 0 1.0400 1567.3 250.8)" font-size="19.7" font-weight="bold">10</text><text transform="matrix(0.9500 0 0 1.0400 1567.3 225)" font-size="19.7" font-weight="bold">20</text><text transform="matrix(0.9500 0 0 1.0400 1567.3 199.1)" font-size="19.7" font-weight="bold">30</text><text transform="matrix(0.9500 0 0 1.0400 1567.3 173.3)" font-size="19.7" font-weight="bold">40</text><text transform="matrix(0.9500 0 0 1.0400 1567.3 147.4)" font-size="19.7" font-weight="bold">50</text><text transform="matrix(0.9500 0 0 1.0400 1567.3 121.5)" font-size="19.7" font-weight="bold">60</text><text transform="matrix(0.9500 0 0 1.0400 1567.3 95.7)" font-size="19.7" font-weight="bold">70</text><text transform="matrix(0.9500 0 0 1.0400 1567.3 69.8)" font-size="19.7" font-weight="bold">80</text><text transform="matrix(0.9500 0 0 1.0400 1567.3 44)" font-size="19.7" font-weight="bold">90</text><text transform="matrix(0.9500 0 0 1.0400 1556.8 18.1)" font-size="19.7" font-weight="bold">100</text><text transform="matrix(0.9500 0 0 1.0400 1593.3 299.1)" font-size="19.7" font-weight="bold">0</text><text transform="matrix(0.9500 0 0 1.0400 1630.9 299.1)" font-size="19.7" font-weight="bold">10</text><text transform="matrix(0.9500 0 0 1.0400 1674.2 299.1)" font-size="19.7" font-weight="bold">20</text><text transform="matrix(0.9500 0 0 1.0400 1717.3 299.1)" font-size="19.7" font-weight="bold">30</text><text transform="matrix(0.9500 0 0 1.0400 1760.4 299.1)" font-size="19.7" font-weight="bold">40</text><text transform="matrix(0.9500 0 0 1.0400 1803.3 299.1)" font-size="19.7" font-weight="bold">50</text><text transform="matrix(0.9500 0 0 1.0400 1846.3 299.1)" font-size="19.7" font-weight="bold">60</text><text transform="matrix(0.9500 0 0 1.0400 1889.2 299.1)" font-size="19.7" font-weight="bold">70</text><text transform="matrix(0.9500 0 0 1.0400 1932.3 299.1)" font-size="19.7" font-weight="bold">80</text><text transform="matrix(0.9500 0 0 1.0400 1975.3 299.1)" font-size="19.7" font-weight="bold">90</text></g><text transform="matrix(0.6863 0 0 0.7314 1758.6 329.9)" font-size="30" font-weight="bold">Cycles</text><text transform="translate(1545.2 208.1) rotate(-90) scale(0.9526 0.9849)" font-size="22" font-weight="bold">Fluorescence</text><g><polyline points="89.8,655 477.1,655" fill="none" stroke="#7a0aa0" stroke-width="2.2" stroke-linejoin="round" stroke-linecap="round"/><polyline points="89.8,652.3 137.3,652.4 144.5,652.8 161.5,654.3 169.6,654.6 284.3,654.6 332.8,654 358.8,653.3 366.8,653.5 384.7,654.7 392.8,655 477.1,655" fill="none" stroke="#e0102a" stroke-width="2.8" stroke-linejoin="round" stroke-linecap="round"/><polyline points="287,655.3 298.7,655.2 300.5,654.8 302.3,653.8 304.1,651.9 305,650.6 306.8,647.3 308.5,643 310.3,637.5 312.1,631 313.9,623.4 315.7,614.9 318.4,600.5 322,579 332.8,510.1 335.4,494.7 338.1,481 339.9,473.1 341.7,466.1 344.4,458 346.2,454.1 348,451.5 348.9,450.7 349.8,450.3 350.7,450.2 352.5,450.7 354.3,452.1 356.1,454.3 357.9,457.4 359.6,461.3 361.4,466 365,477.6 368.6,491.6 372.2,507.8 376.7,530 386.5,581 390.1,598.3 392.8,610.1 396.4,624.1 399.1,632.9 400.9,638 402.7,642.4 405.4,647.6 407.2,650.3 409.9,653.1 412.5,654.6 415.2,655.2 477.1,655.3" fill="none" stroke="#82b4f0" stroke-width="5.0" stroke-linejoin="round" stroke-linecap="round"/><polyline points="287,655.3 301.4,655.3 303.2,655.1 305,654.4 306.8,653 307.6,652 309.4,649.2 311.2,645.5 313,640.7 314.8,634.8 316.6,627.9 318.4,620 321.1,606.5 325.6,580.5 336.3,512.9 339,497.8 341.7,484.4 343.5,476.6 345.3,469.8 348,461.8 349.8,457.9 351.6,455.4 352.5,454.6 353.4,454.2 354.3,454.1 356.1,454.6 357.9,456 359.6,458.2 361.4,461.2 363.2,465.1 365,469.7 368.6,481 372.2,494.8 375.8,510.6 380.3,532.4 390.1,582.5 393.7,599.4 396.4,611 400,624.7 402.7,633.4 404.5,638.3 406.3,642.6 409,647.8 410.7,650.4 413.4,653.1 416.1,654.6 418.8,655.2 477.1,655.3" fill="none" stroke="#ff8214" stroke-width="3.0" stroke-linejoin="round" stroke-linecap="round"/><polyline points="287,655.3 299.6,655.3 301.4,655 303.2,654.2 305,652.6 305.9,651.5 307.6,648.5 309.4,644.5 311.2,639.4 313,633.2 314.8,626 316.6,617.8 319.3,603.9 323.8,577.3 333.6,514.3 337.2,493.8 339.9,480.5 341.7,472.8 343.5,466.1 346.2,458.4 348,454.7 348.9,453.4 349.8,452.5 350.7,451.8 351.6,451.5 353.4,451.8 355.2,452.9 357,454.9 358.8,457.7 360.5,461.3 362.3,465.8 365.9,476.8 369.5,490.4 374,510.4 388.3,583.3 391.9,600.3 394.6,611.9 398.2,625.5 400.9,634.1 403.6,641.2 405.4,645.1 407.2,648.3 409,650.8 411.6,653.4 414.3,654.8 417,655.2 477.1,655.3" fill="none" stroke="#0a14e6" stroke-width="3.4" stroke-linejoin="round" stroke-linecap="round"/><polyline points="287,655.3 300.5,655.3 302.3,655 304.1,654.2 305.9,652.6 306.8,651.5 308.5,648.5 310.3,644.5 312.1,639.5 313.9,633.4 315.7,626.2 317.5,618 320.2,604.2 324.7,577.8 334.5,515.2 338.1,494.9 340.8,481.6 342.6,473.9 344.4,467.3 347.1,459.6 348.9,456 349.8,454.7 350.7,453.8 351.6,453.1 352.5,452.8 354.3,453.1 356.1,454.2 357.9,456.2 359.6,459 361.4,462.6 363.2,467 366.8,478 370.4,491.5 374.9,511.4 389.2,583.7 392.8,600.6 395.5,612.2 399.1,625.7 401.8,634.3 404.5,641.3 406.3,645.2 408.1,648.3 409.9,650.8 412.5,653.4 414.3,654.4 417,655.2 419.7,655.3 477.1,655.3" fill="none" stroke="#000030" stroke-width="1.4" stroke-linejoin="round" stroke-linecap="round"/></g><path d="M82.2 392.3H89.8V662.6" fill="none" stroke="#000" stroke-width="2.4" stroke-linejoin="round"/><path d="M82.2 655.3H487.8" fill="none" stroke="#000" stroke-width="2.4"/><path d="M82.2 589.5H89.8M82.2 523.8H89.8M82.2 458H89.8M179.4 655.3V662.6M269.1 655.3V662.6M358.8 655.3V662.6M448.4 655.3V662.6" stroke="#000" stroke-width="2.6999999999999997"/><g><text transform="matrix(0.9500 0 0 1.0400 68 660.9)" font-size="20.6" font-weight="bold">0</text><text transform="matrix(0.9500 0 0 1.0400 57.1 595.1)" font-size="20.6" font-weight="bold">10</text><text transform="matrix(0.9500 0 0 1.0400 57.1 529.4)" font-size="20.6" font-weight="bold">20</text><text transform="matrix(0.9500 0 0 1.0400 57.1 463.6)" font-size="20.6" font-weight="bold">30</text><text transform="matrix(0.9500 0 0 1.0400 57.1 397.9)" font-size="20.6" font-weight="bold">40</text><text transform="matrix(0.9500 0 0 1.0400 78.6 684)" font-size="20.6" font-weight="bold">70</text><text transform="matrix(0.9500 0 0 1.0400 168.1 684)" font-size="20.6" font-weight="bold">75</text><text transform="matrix(0.9500 0 0 1.0400 258 684)" font-size="20.6" font-weight="bold">80</text><text transform="matrix(0.9500 0 0 1.0400 347.5 684)" font-size="20.6" font-weight="bold">85</text><text transform="matrix(0.9500 0 0 1.0400 437.3 684)" font-size="20.6" font-weight="bold">90</text></g><text transform="matrix(0.7141 0 0 0.8285 221.5 714.9)" font-size="30" font-weight="bold">Temperature</text><text transform="translate(45.5 551.2) rotate(-90) scale(0.9638 1.0037)" font-size="22" font-weight="bold">dF/dT</text><g><polyline points="590.6,655.3 985.1,655.3" fill="none" stroke="#7a0aa0" stroke-width="2.4" stroke-linejoin="round" stroke-linecap="round"/><polyline points="590.6,652.7 682.9,652.7 693.7,652.3 717.9,650.7 728.7,650.2 779.8,650.1 789.6,650.6 813.8,653.3 838,654.9 851.5,655.6 977.9,655.7" fill="none" stroke="#c00060" stroke-width="2.8" stroke-linejoin="round" stroke-linecap="round"/><polyline points="590.6,654 700.9,653.7 712.5,652.9 740.3,649.9 747.5,649.5 753.8,649.4 768.1,649.8 789.6,650.8 797.7,651.5 817.4,653.6 829.1,654.3 856,655.6 877.5,656" fill="none" stroke="#e01040" stroke-width="2.0" stroke-linejoin="round" stroke-linecap="round"/><polyline points="590.6,642.9 615.7,643 648,643.6 691.9,645.8 709.8,646.1 724.2,645.4 759.1,642.3 786,641 808.4,640.2 811.1,639.8 812.9,639.3 814.7,638.4 816.5,637.3 818.3,635.7 820.1,633.8 823.7,628.8 827.3,622.3 830,616.6 833.6,608.1 847.9,571 851.5,562.9 855.1,555.9 858.7,550.5 861.3,547.5 863.1,546.2 864.9,545.3 866.7,544.9 867.6,544.9 869.4,545.3 870.3,545.7 872.1,546.9 873.9,548.7 876.6,552.4 880.2,559.1 882.9,565.3 886.4,574.8 890,585.3 899.9,615.8 905.3,630.6 908.9,638.9 911.5,644 914.2,648.2 916.9,651.3 918.7,652.9 921.4,654.4 923.2,655 925.9,655.4 943.8,655.9 977.9,656" fill="none" stroke="#a06c28" stroke-width="2.2" stroke-linejoin="round" stroke-linecap="round"/><polyline points="590.6,642.9 615.7,643 648,643.6 691.9,645.8 709.8,646.1 724.2,645.4 759.1,642.3 782.5,641.1 804,640.3 806.7,640 809.3,639.3 811.1,638.6 812.9,637.4 814.7,636 816.5,634.2 820.1,629.4 823.7,623.3 827.3,616 830.9,607.6 841.6,580 846.1,569 849.7,561.2 853.3,554.5 856.9,549.3 859.5,546.5 861.3,545.1 863.1,544.3 864.9,543.9 865.8,543.9 867.6,544.2 868.5,544.6 870.3,545.8 872.1,547.6 874.8,551.3 878.4,558 882,566.5 885.5,576.3 898.1,615.1 903.5,630.1 907.1,638.5 909.8,643.7 912.4,648 915.1,651.1 916.9,652.7 919.6,654.3 921.4,654.9 924.1,655.3 942,655.8 977.9,656" fill="none" stroke="#ff8214" stroke-width="2.4" stroke-linejoin="round" stroke-linecap="round"/><polyline points="590.6,640.9 808.4,640.3 812,640 814.7,639.2 816.5,638.3 818.3,637.1 820.1,635.4 821.9,633.3 825.5,628 829.1,621.1 831.8,615.1 835.3,606 849.7,566.5 853.3,557.8 856.9,550.4 860.4,544.6 863.1,541.5 864.9,540 866.7,539.1 868.5,538.7 869.4,538.7 870.3,538.8 872.1,539.5 873.9,540.7 875.7,542.4 877.5,544.7 879.3,547.4 882.9,554.1 886.4,562.5 890,572.1 903.5,612.5 907.1,622.6 909.8,629.5 913.3,637.7 916,642.9 918.7,647.1 921.4,650.5 923.2,652.2 925.9,654 928.6,655.1 931.3,655.6 946.5,655.9 977.9,656" fill="none" stroke="#82b4f0" stroke-width="3.4" stroke-linejoin="round" stroke-linecap="round"/><polyline points="590.6,640.9 805.8,640.2 809.3,640 812,639.2 813.8,638.3 815.6,637 817.4,635.3 819.2,633.1 822.8,627.7 826.4,620.6 829.1,614.4 832.7,605.1 847,564.4 850.6,555.5 854.2,547.9 857.8,541.8 860.4,538.6 862.2,537 864,536 865.8,535.5 866.7,535.5 868.5,535.9 869.4,536.3 871.2,537.6 873,539.5 875.7,543.5 879.3,550.7 882.9,559.8 886.4,570.4 899,612.1 904.4,628.3 908,637.3 910.7,643 913.3,647.5 916,650.9 917.8,652.6 920.5,654.3 922.3,654.9 925,655.4 942.9,655.8 977.9,656" fill="none" stroke="#20b060" stroke-width="2.2" stroke-linejoin="round" stroke-linecap="round"/><polyline points="590.6,640.9 805.8,640.2 809.3,640 812,639.2 813.8,638.2 815.6,636.9 817.4,635.2 819.2,633.1 822.8,627.5 826.4,620.4 829.1,614.1 832.7,604.7 847,563.5 850.6,554.4 854.2,546.7 857.8,540.6 860.4,537.3 862.2,535.7 864,534.7 865.8,534.2 866.7,534.2 868.5,534.6 869.4,535 871.2,536.3 873,538.2 875.7,542.2 879.3,549.5 882.9,558.7 886.4,569.4 899,611.7 904.4,628 908,637.1 910.7,642.8 913.3,647.4 916,650.9 917.8,652.6 920.5,654.3 922.3,654.9 925,655.4 942.9,655.8 977.9,656" fill="none" stroke="#1eb428" stroke-width="2.0" stroke-linejoin="round" stroke-linecap="round"/><polyline points="590.6,638.9 621.1,637.5 638.1,637 803.1,637 806.7,636.7 809.3,635.9 811.1,635 812.9,633.7 814.7,632 816.5,629.9 820.1,624.4 823.7,617.3 826.4,611 830,601.6 845.2,557.6 848.8,548.5 852.4,540.8 856,534.8 858.7,531.5 860.4,530 862.2,529 864,528.5 864.9,528.5 866.7,528.9 867.6,529.4 869.4,530.7 871.2,532.6 873,535.1 874.8,538.2 878.4,546 881.1,553 884.7,563.7 898.1,609.5 903.5,626.1 907.1,635.4 909.8,641.3 912.4,646.1 915.1,649.8 916.9,651.7 919.6,653.7 922.3,654.8 925,655.2 942.9,655.8 977.9,656" fill="none" stroke="#4a80f0" stroke-width="2.2" stroke-linejoin="round" stroke-linecap="round"/><polyline points="590.6,650.7 609.4,645 617.5,642.8 625.6,641.2 632.7,640.3 664.1,639.8 708.9,639.3 802.2,638.9 805.8,638.6 808.4,637.8 810.2,636.9 812,635.5 813.8,633.8 815.6,631.6 819.2,625.9 822.8,618.5 826.4,609.7 830,599.7 840.7,567 844.3,556.6 847.9,547.2 851.5,539.1 855.1,532.8 857.8,529.3 859.5,527.7 861.3,526.6 863.1,526.1 864,526 865.8,526.4 866.7,526.8 868.5,528.1 870.3,530.1 872.1,532.7 873.9,535.8 877.5,543.9 880.2,551.2 883.8,562.3 897.2,609.8 902.6,626.8 906.2,636.3 908.9,642.2 911.5,646.9 914.2,650.5 916,652.3 918.7,654 920.5,654.7 923.2,655.2 942,655.8 977.9,656" fill="none" stroke="#0a14e6" stroke-width="3.4" stroke-linejoin="round" stroke-linecap="round"/><polyline points="590.6,638.9 621.1,637.5 638.1,637 802.2,637 805.8,636.7 808.4,635.9 810.2,634.9 812,633.6 813.8,631.9 815.6,629.7 819.2,624.1 822.8,616.9 826.4,608.2 830,598.4 840.7,566.3 844.3,556.1 847.9,546.9 851.5,539 855.1,532.8 857.8,529.5 859.5,527.9 861.3,526.8 863.1,526.4 864,526.3 865.8,526.7 866.7,527.2 868.5,528.5 870.3,530.5 872.1,533.1 873.9,536.3 877.5,544.3 880.2,551.6 883.8,562.7 897.2,609.9 902.6,626.9 906.2,636.3 908.9,642.1 911.5,646.8 914.2,650.4 916,652.2 918.7,653.9 920.5,654.6 923.2,655.1 931.3,655.5 942,655.8 977.9,656" fill="none" stroke="#0a14e6" stroke-width="3.0" stroke-linejoin="round" stroke-linecap="round"/><polyline points="590.6,638.9 829.1,638.9 831.8,638.8 834.4,638.3 836.2,637.5 838,636.4 839.8,634.9 841.6,633 844.3,629.4 847.9,623.2 850.6,617.6 854.2,609.1 864,583.4 867.6,574.5 871.2,566.6 873.9,561.5 876.6,557.4 879.3,554.3 882,552.4 883.8,551.8 884.7,551.7 886.4,551.9 888.2,552.7 890.9,555.1 893.6,558.9 895.4,562.2 897.2,566 899.9,572.5 903.5,582.6 914.2,616.8 919.6,632.2 922.3,638.6 925,644.1 927.7,648.4 930.4,651.5 933.1,653.6 934.9,654.4 936.6,654.9 943.8,655.5 956.4,655.8 958.2,654.9 960,653.4 964.4,648.9 969.8,642.4 976.1,633.6" fill="none" stroke="#7a0aa0" stroke-width="2.4" stroke-linejoin="round" stroke-linecap="round"/><polyline points="931.3,656 961.8,655.9 964.4,655.3 967.1,654.4 976.1,650.1 977.9,650.1" fill="none" stroke="#82b4f0" stroke-width="2.6" stroke-linejoin="round" stroke-linecap="round"/></g><path d="M583 393H590.6V663.3" fill="none" stroke="#000" stroke-width="3.0" stroke-linejoin="round"/><path d="M583 656H988.6" fill="none" stroke="#000" stroke-width="3.0"/><path d="M583 590.2H590.6M583 524.5H590.6M583 458.8H590.6M680.2 656V663.3M769.9 656V663.3M859.5 656V663.3M949.2 656V663.3" stroke="#000" stroke-width="3.3"/><g><text transform="matrix(0.9500 0 0 1.0400 568.8 661.6)" font-size="20.6" font-weight="bold">0</text><text transform="matrix(0.9500 0 0 1.0400 557.9 595.9)" font-size="20.6" font-weight="bold">10</text><text transform="matrix(0.9500 0 0 1.0400 557.9 530.1)" font-size="20.6" font-weight="bold">20</text><text transform="matrix(0.9500 0 0 1.0400 557.9 464.4)" font-size="20.6" font-weight="bold">30</text><text transform="matrix(0.9500 0 0 1.0400 557.9 398.6)" font-size="20.6" font-weight="bold">40</text><text transform="matrix(0.9500 0 0 1.0400 579.4 684.7)" font-size="20.6" font-weight="bold">70</text><text transform="matrix(0.9500 0 0 1.0400 668.9 684.7)" font-size="20.6" font-weight="bold">75</text><text transform="matrix(0.9500 0 0 1.0400 758.8 684.7)" font-size="20.6" font-weight="bold">80</text><text transform="matrix(0.9500 0 0 1.0400 848.3 684.7)" font-size="20.6" font-weight="bold">85</text><text transform="matrix(0.9500 0 0 1.0400 938.1 684.7)" font-size="20.6" font-weight="bold">90</text></g><text transform="matrix(0.7141 0 0 0.8285 722.3 715.6)" font-size="30" font-weight="bold">Temperature</text><text transform="translate(546.3 551.2) rotate(-90) scale(0.9638 1.0037)" font-size="22" font-weight="bold">dF/dT</text><g><polyline points="1092,656 1486.5,656" fill="none" stroke="#400060" stroke-width="2.6" stroke-linejoin="round" stroke-linecap="round"/><polyline points="1092,653.7 1361,653.7 1365.4,654 1374.4,655.3 1378,655.6 1477.5,655.6" fill="none" stroke="#a01414" stroke-width="3.6" stroke-linejoin="round" stroke-linecap="round"/><polyline points="1092,642.5 1103.7,641.5 1110.8,641.1 1143.1,640.1 1172.7,639.4 1197.8,639.2 1351.1,639.2 1354.7,639 1357.4,638.4 1360.1,637.4 1361.8,636.3 1365.4,633.2 1369,629 1372.6,623.5 1376.2,617 1379.8,609.7 1391.4,583.5 1395.9,573.9 1399.5,567.1 1403.1,561.4 1406.7,556.8 1409.4,554.3 1411.2,553.2 1412.9,552.4 1415.6,552 1417.4,552.4 1418.3,552.8 1419.2,553.5 1421,555.3 1423.7,559.5 1425.5,563.2 1427.3,567.6 1430,575.1 1432.7,583.7 1441.6,615.6 1446.1,630.2 1448.8,637.7 1450.6,642 1452.4,645.7 1454.2,648.8 1456,651.2 1458.7,653.7 1460.5,654.7 1463.2,655.5 1475.7,648.6" fill="none" stroke="#22b422" stroke-width="2.2" stroke-linejoin="round" stroke-linecap="round"/><polyline points="1092,656.2 1108.1,655.9 1119.8,655.3 1129.7,654.5 1137.7,653.3 1144.9,651.7 1151.2,649.9 1157.4,647.8 1172.7,642.2 1180.8,639.7 1190.6,637.5 1196,636.7 1202.3,636 1215.7,635.2 1234.5,634.8 1331.4,634.6 1334.1,634.4 1336.7,633.6 1338.5,632.5 1340.3,631 1343,627.7 1345.7,623.2 1349.3,615.4 1352,608.4 1355.6,597.8 1368.1,557.3 1371.7,547.2 1374.4,540.7 1377.1,535.4 1379.8,531.4 1382.5,528.9 1384.3,528 1385.2,527.8 1386.9,528 1388.7,528.7 1390.5,530.1 1392.3,532 1394.1,534.6 1395.9,537.7 1399.5,545.4 1403.1,555 1406.7,566.1 1419.2,609.7 1424.6,626.6 1428.2,636 1430.9,641.8 1433.6,646.4 1436.3,649.9 1438,651.6 1439.8,652.9 1441.6,653.7 1443.4,654.3 1449.7,655.2 1459.6,655.8 1479.3,628.7" fill="none" stroke="#7a0aa0" stroke-width="2.4" stroke-linejoin="round" stroke-linecap="round"/><polyline points="1092,656.2 1111.7,656 1125.2,655.5 1135.9,654.7 1144.9,653.6 1152.1,652.1 1159.2,650.2 1166.4,647.8 1181.7,642.2 1190.6,639.4 1200.5,637.3 1211.2,636 1224.7,635.2 1243.5,634.8 1341.2,634.6 1343.9,634.4 1346.6,633.7 1348.4,632.7 1350.2,631.3 1352.9,628.3 1355.6,624.2 1359.2,617.1 1361.8,610.6 1365.4,600.9 1378,563.9 1381.6,554.7 1384.3,548.8 1386.9,543.9 1389.6,540.3 1392.3,538 1394.1,537.2 1395,537 1396.8,537.2 1398.6,537.9 1400.4,539.1 1402.2,540.9 1404,543.3 1405.8,546.1 1409.4,553.3 1412.9,562.1 1416.5,572.4 1429.1,612.8 1434.5,628.5 1437.2,635.2 1439.8,640.9 1442.5,645.6 1445.2,649.2 1447.9,651.8 1450.6,653.4 1454.2,654.5 1459.6,655.2 1468.5,647.9 1479.3,638.8" fill="none" stroke="#7a0aa0" stroke-width="2.4" stroke-linejoin="round" stroke-linecap="round"/><polyline points="1092,656.3 1115.3,656.1 1130.5,655.7 1143.1,654.9 1153,653.7 1161,652.1 1168.2,650.2 1175.4,647.8 1190.6,642.2 1199.6,639.4 1209.4,637.3 1221.1,635.9 1234.5,635.1 1253.4,634.7 1346.6,634.6 1349.3,634.4 1352,633.6 1353.8,632.6 1355.6,631.1 1358.3,627.9 1361,623.6 1364.5,616.1 1367.2,609.4 1370.8,599.1 1383.4,560.1 1386.9,550.4 1389.6,544.2 1392.3,539.1 1395,535.2 1397.7,532.8 1399.5,531.9 1400.4,531.7 1402.2,531.9 1404,532.6 1405.8,534 1407.6,535.9 1409.4,538.3 1411.2,541.3 1414.7,548.8 1418.3,558.1 1421.9,568.8 1434.5,611 1438.9,624.9 1441.6,632.2 1444.3,638.5 1447,643.7 1448.8,646.6 1451.5,650 1454.2,652.3 1456.9,653.8 1459.6,654.5 1467.6,651.3 1479.3,645.9" fill="none" stroke="#7a0aa0" stroke-width="2.4" stroke-linejoin="round" stroke-linecap="round"/><polyline points="1092,656.3 1246.2,656.2 1249.8,655.5 1255.2,654 1259.6,652.2 1265,649 1278.5,639.5 1282.1,637.4 1285.6,635.8 1288.3,635 1290.1,634.7 1307.2,633.8 1309,633.4 1310.7,632.6 1312.5,631.2 1314.3,629.3 1316.1,626.8 1317.9,623.6 1320.6,617.5 1324.2,607.2 1326.9,597.9 1330.5,583.9 1341.2,537 1344.8,522.2 1348.4,508.9 1351.1,500.3 1352.9,495.4 1354.7,491.2 1357.4,486.3 1359.2,484.1 1360.1,483.3 1361.8,482.4 1362.7,482.3 1364.5,482.7 1365.4,483.3 1366.3,484.2 1368.1,486.7 1370.8,492.4 1372.6,497.3 1374.4,503.2 1377.1,513.5 1380.7,529.6 1393.2,594.9 1395.9,607.9 1398.6,619.7 1401.3,630 1404,638.6 1406.7,645.3 1409.4,650.1 1411.2,652.3 1412.9,653.8 1415.6,655 1418.3,655.4 1426.4,655.9 1437.2,656.1 1477.5,656.3" fill="none" stroke="#ff8214" stroke-width="3.6" stroke-linejoin="round" stroke-linecap="round"/><polyline points="1092,656.3 1212.1,656.2 1215.7,655.5 1224.7,653 1229.2,651.6 1237.2,648.6 1257.9,640.3 1264.1,638.1 1270.4,636.3 1275.8,635.2 1280.3,634.7 1306.3,633.8 1309,633.3 1310.7,632.6 1312.5,631.3 1314.3,629.6 1316.1,627.2 1317.9,624.3 1320.6,618.7 1324.2,609.2 1326.9,600.6 1330.5,587.7 1341.2,544.5 1344.8,530.8 1348.4,518.5 1351.1,510.6 1352.9,506.1 1354.7,502.2 1357.4,497.8 1359.2,495.7 1360.1,495 1361.8,494.2 1362.7,494.1 1364.5,494.6 1365.4,495.1 1366.3,496 1368.1,498.3 1370.8,503.6 1372.6,508.2 1374.4,513.7 1377.1,523.3 1380.7,538.3 1393.2,599.1 1395.9,611.2 1398.6,622.1 1401.3,631.7 1404,639.7 1406.7,645.9 1409.4,650.4 1411.2,652.5 1412.9,653.9 1415.6,655 1418.3,655.4 1426.4,655.9 1437.2,656.1 1477.5,656.3" fill="none" stroke="#82b4f0" stroke-width="4.4" stroke-linejoin="round" stroke-linecap="round"/><polyline points="1092,656.3 1217.5,656.2 1222,655.2 1230.1,653 1234.5,651.6 1242.6,648.5 1262.3,640.3 1268.6,638 1274,636.4 1279.4,635.3 1283.9,634.7 1306.3,633.8 1309,633.2 1310.7,632.3 1312.5,630.8 1314.3,628.9 1317,624.7 1318.8,621.2 1320.6,617 1324.2,606.8 1326.9,597.8 1330.5,584.3 1343.9,529.2 1347.5,516.4 1350.2,508.1 1352,503.3 1353.8,499.2 1356.5,494.4 1358.3,492.1 1359.2,491.3 1361,490.3 1361.8,490.1 1363.6,490.3 1365.4,491.5 1366.3,492.5 1368.1,495.2 1370.8,501 1372.6,506 1374.4,511.8 1377.1,521.9 1380.7,537.6 1392.3,595.7 1395,608.3 1397.7,619.7 1400.4,629.8 1403.1,638.2 1405.8,644.8 1408.5,649.7 1410.3,652 1412.1,653.5 1414.7,654.8 1417.4,655.3 1425.5,655.8 1436.3,656.1 1477.5,656.3" fill="none" stroke="#0a14e6" stroke-width="2.6" stroke-linejoin="round" stroke-linecap="round"/><polyline points="1092,656.3 1210.3,656.2 1213.9,655.5 1222.9,653 1227.4,651.6 1235.4,648.6 1256.1,640.3 1262.3,638.1 1268.6,636.3 1274,635.2 1278.5,634.7 1305.4,633.8 1308.1,633.3 1309.8,632.6 1311.6,631.3 1313.4,629.6 1315.2,627.3 1317,624.3 1319.7,618.8 1323.3,609.3 1326,600.8 1329.6,587.9 1340.3,544.8 1343.9,531.2 1347.5,519 1350.2,511.1 1352,506.6 1353.8,502.7 1356.5,498.3 1358.3,496.2 1359.2,495.5 1361,494.7 1361.8,494.6 1363.6,495 1364.5,495.6 1365.4,496.4 1367.2,498.7 1369.9,503.9 1371.7,508.5 1373.5,513.9 1376.2,523.4 1379.8,538.3 1392.3,598.9 1395,611 1397.7,622 1400.4,631.5 1403.1,639.5 1405.8,645.8 1408.5,650.3 1410.3,652.3 1412.1,653.8 1414.7,654.9 1417.4,655.3 1425.5,655.8 1436.3,656.1 1477.5,656.3" fill="none" stroke="#9cc8f8" stroke-width="1.6" stroke-linejoin="round" stroke-linecap="round"/></g><path d="M1084.4 393.3H1092V663.6" fill="none" stroke="#000" stroke-width="3.0" stroke-linejoin="round"/><path d="M1084.4 656.3H1490" fill="none" stroke="#000" stroke-width="3.0"/><path d="M1084.4 590.5H1092M1084.4 524.8H1092M1084.4 459H1092M1181.7 656.3V663.6M1271.3 656.3V663.6M1361 656.3V663.6M1450.6 656.3V663.6" stroke="#000" stroke-width="3.3"/><g><text transform="matrix(0.9500 0 0 1.0400 1070.2 661.9)" font-size="20.6" font-weight="bold">0</text><text transform="matrix(0.9500 0 0 1.0400 1059.3 596.1)" font-size="20.6" font-weight="bold">10</text><text transform="matrix(0.9500 0 0 1.0400 1059.3 530.4)" font-size="20.6" font-weight="bold">20</text><text transform="matrix(0.9500 0 0 1.0400 1059.3 464.6)" font-size="20.6" font-weight="bold">30</text><text transform="matrix(0.9500 0 0 1.0400 1059.3 398.9)" font-size="20.6" font-weight="bold">40</text><text transform="matrix(0.9500 0 0 1.0400 1080.8 685)" font-size="20.6" font-weight="bold">70</text><text transform="matrix(0.9500 0 0 1.0400 1170.3 685)" font-size="20.6" font-weight="bold">75</text><text transform="matrix(0.9500 0 0 1.0400 1260.2 685)" font-size="20.6" font-weight="bold">80</text><text transform="matrix(0.9500 0 0 1.0400 1349.7 685)" font-size="20.6" font-weight="bold">85</text><text transform="matrix(0.9500 0 0 1.0400 1439.5 685)" font-size="20.6" font-weight="bold">90</text></g><text transform="matrix(0.7141 0 0 0.8285 1223.7 715.9)" font-size="30" font-weight="bold">Temperature</text><text transform="translate(1047.7 551.2) rotate(-90) scale(0.9638 1.0037)" font-size="22" font-weight="bold">dF/dT</text><g><polyline points="1591.7,654.7 1979,654.7" fill="none" stroke="#d00020" stroke-width="2.4" stroke-linejoin="round" stroke-linecap="round"/><polyline points="1591.7,653 1625.8,652.3 1666.1,650.9 1679.6,650.2 1710,648 1724.4,647.3 1734.2,647.1 1771.9,647.1 1779.1,647.3 1787.1,647.9 1837.3,652.7 1863.3,654 1875,654.3 1892,654.4 1979,654.7" fill="none" stroke="#f00a0a" stroke-width="3.4" stroke-linejoin="round" stroke-linecap="round"/><polyline points="1591.7,649.7 1624.9,649.6 1667,649 1682.2,648.5 1728,646.4 1741.4,646.1 1756.7,646.2 1776.4,646.7 1806,649.7 1843.6,651.8 1865.1,653.4 1874.1,653.9 1921.6,654.5 1979,654.7" fill="none" stroke="#f00a0a" stroke-width="3.4" stroke-linejoin="round" stroke-linecap="round"/><polyline points="1591.7,651.4 1666.1,650.3 1725.3,648.5 1780.9,648.4 1794.3,649 1823,651.6 1852.6,653.4 1868.7,654.2 1907.3,654.5 1979,654.7" fill="none" stroke="#f00a0a" stroke-width="3.4" stroke-linejoin="round" stroke-linecap="round"/><polyline points="1591.7,654.3 1702,654 1713.6,653.6 1740.5,652 1754,651.7 1771.9,652 1845.4,654.1 1866.9,654.6 1979,654.7" fill="none" stroke="#f00a0a" stroke-width="2.6" stroke-linejoin="round" stroke-linecap="round"/><polyline points="1806.9,651.7 1841.8,651.5 1847.2,651.3 1849.9,651 1853.5,650.2 1858,648.8 1873.2,643.2 1885.8,638 1889.3,637 1892,636.4 1897.4,636.3 1906.4,637 1910,637.9 1914.4,639.5" fill="none" stroke="#f00a0a" stroke-width="2.2" stroke-linejoin="round" stroke-linecap="round"/><polyline points="1591.7,638.6 1631.1,637.7 1658,637.3 1800.6,636.9 1804.2,636.7 1806.9,636 1809.5,634.5 1811.3,633.1 1813.1,631.4 1814.9,629.2 1818.5,623.6 1822.1,616.5 1825.7,608.1 1829.3,598.6 1840.9,564.5 1844.5,554.5 1849,543.3 1852.6,535.8 1856.2,529.9 1858.9,526.7 1860.7,525.1 1862.4,524.1 1864.2,523.6 1865.1,523.6 1866.9,523.9 1868.7,524.8 1871.4,527.5 1873.2,530 1875,533.1 1878.6,541.1 1881.3,548.4 1884.9,559.5 1888.4,571.8 1898.3,607.4 1903.7,624.7 1907.3,634.4 1910,640.4 1912.6,645.3 1915.3,649 1917.1,650.8 1919.8,652.6 1922.5,653.6 1925.2,654 1933.3,654.5 1944,654.8 1979,655" fill="none" stroke="#82b4f0" stroke-width="4.6" stroke-linejoin="round" stroke-linecap="round"/><polyline points="1591.7,651.1 1615,644.5 1626.7,641.6 1638.3,639.3 1648.2,638.2 1654.5,637.9 1702,637.5 1800.6,637.3 1804.2,637 1806,636.6 1807.8,635.9 1809.5,634.9 1811.3,633.6 1813.1,631.9 1814.9,629.8 1818.5,624.4 1823,615.6 1825.7,609.4 1829.3,600.2 1840.9,567.3 1844.5,557.6 1848.1,548.9 1851.7,541.3 1855.3,535.2 1857.1,532.7 1858.9,530.8 1860.7,529.3 1862.4,528.3 1864.2,527.8 1865.1,527.8 1866.9,528.1 1868.7,529 1871.4,531.7 1873.2,534.2 1875,537.3 1878.6,545.2 1881.3,552.4 1884.9,563.4 1897.4,607.4 1902.8,624.6 1906.4,634.2 1909.1,640.3 1911.8,645.1 1914.4,648.8 1916.2,650.7 1918.9,652.6 1921.6,653.6 1924.3,654 1932.4,654.4 1943.1,654.8 1979,655" fill="none" stroke="#0a14e6" stroke-width="3.0" stroke-linejoin="round" stroke-linecap="round"/><polyline points="1591.7,645.8 1623.1,641 1632.9,639.9 1641.9,639.3 1716.3,638.3 1802.4,637.9 1806,637.5 1808.7,636.6 1810.4,635.7 1812.2,634.4 1814,632.7 1815.8,630.7 1819.4,625.4 1823.9,616.9 1826.6,610.9 1830.2,601.9 1841.8,570 1845.4,560.7 1849,552.2 1852.6,544.8 1856.2,538.9 1858,536.5 1859.8,534.7 1861.5,533.2 1863.3,532.3 1865.1,531.8 1866,531.8 1867.8,532.1 1869.6,533 1872.3,535.6 1874.1,538 1875.9,541.1 1879.5,548.8 1882.2,555.8 1885.8,566.5 1898.3,609.1 1903.7,625.7 1907.3,635.1 1910,640.9 1912.6,645.6 1915.3,649.2 1917.1,650.9 1919.8,652.7 1922.5,653.7 1925.2,654.1 1933.3,654.5 1944,654.8 1979,655" fill="none" stroke="#1eb428" stroke-width="3.4" stroke-linejoin="round" stroke-linecap="round"/><polyline points="1591.7,637.9 1658.9,636.9 1802.4,636.6 1806,636.4 1808.7,635.7 1811.3,634.4 1813.1,633.2 1814.9,631.6 1816.7,629.6 1820.3,624.6 1823.9,618.2 1827.5,610.6 1831.1,602 1842.7,571.3 1846.3,562.3 1849.9,554.1 1853.5,547 1857.1,541.4 1858.9,539.2 1860.7,537.4 1862.4,536 1864.2,535.2 1866,534.8 1866.9,534.7 1868.7,535.1 1870.5,536.1 1873.2,538.6 1875,541 1876.8,544 1880.4,551.6 1883.1,558.5 1886.6,568.9 1899.2,610.4 1904.6,626.6 1908.2,635.6 1910.9,641.3 1913.5,645.8 1916.2,649.3 1918,651 1920.7,652.8 1923.4,653.7 1926.1,654.1 1934.2,654.5 1944.9,654.8 1979,655" fill="none" stroke="#ff8214" stroke-width="3.0" stroke-linejoin="round" stroke-linecap="round"/><polyline points="1591.7,637.9 1658.9,636.9 1803.3,636.6 1806.9,636.4 1809.5,635.7 1812.2,634.5 1814,633.3 1815.8,631.7 1817.6,629.8 1821.2,624.9 1824.8,618.7 1828.4,611.2 1832,602.9 1843.6,573 1847.2,564.2 1850.8,556.2 1854.4,549.4 1858,543.9 1859.8,541.8 1861.5,540 1863.3,538.7 1865.1,537.9 1867.8,537.5 1869.6,537.9 1870.5,538.3 1872.3,539.5 1874.1,541.3 1875.9,543.5 1877.7,546.4 1881.3,553.4 1884.9,562.2 1888.4,572.3 1901,611.8 1906.4,627.1 1910,635.8 1912.6,641.2 1915.3,645.6 1918,649.1 1919.8,650.8 1922.5,652.7 1925.2,653.7 1927.9,654.2 1945.8,654.8 1979,655" fill="none" stroke="#e02020" stroke-width="2.4" stroke-linejoin="round" stroke-linecap="round"/><polyline points="1591.7,637.9 1658.9,636.9 1802.4,636.6 1806,636.4 1808.7,635.8 1811.3,634.6 1813.1,633.5 1814.9,632 1816.7,630.2 1820.3,625.6 1823.9,619.8 1827.5,612.8 1831.1,604.9 1842.7,576.4 1847.2,565.9 1850.8,558.4 1854.4,551.9 1858,546.7 1859.8,544.7 1861.5,543.1 1863.3,541.9 1865.1,541.1 1867.8,540.8 1869.6,541.2 1870.5,541.6 1872.3,542.7 1874.1,544.3 1875.9,546.5 1877.7,549.1 1881.3,555.7 1884.9,563.8 1888.4,573.3 1901.9,613.1 1905.5,623.1 1908.2,629.8 1911.8,637.7 1914.4,642.6 1917.1,646.6 1918.9,648.8 1920.7,650.6 1922.5,651.9 1924.3,652.9 1926.1,653.6 1928.8,654.2 1940.4,654.7 1961.1,654.9 1979,643.2" fill="none" stroke="#7a0aa0" stroke-width="3.0" stroke-linejoin="round" stroke-linecap="round"/><polyline points="1591.7,637.9 1658.9,636.9 1803.3,636.6 1806.9,636.4 1809.5,635.8 1812.2,634.7 1814,633.6 1815.8,632.2 1817.6,630.5 1821.2,626 1824.8,620.3 1828.4,613.6 1832,605.9 1843.6,578.4 1848.1,568.3 1851.7,561.1 1855.3,554.8 1858.9,549.9 1861.5,547.1 1863.3,545.8 1865.1,544.9 1867.8,544.3 1869.6,544.4 1871.4,545 1873.2,546.1 1875,547.7 1876.8,549.7 1878.6,552.1 1882.2,558.3 1885.8,565.9 1889.3,574.7 1903.7,614.7 1907.3,624.1 1910,630.4 1913.5,637.9 1916.2,642.6 1918.9,646.5 1920.7,648.6 1922.5,650.4 1924.3,651.8 1927,653.2 1928.8,653.8 1931.5,654.3 1942.2,654.7 1961.1,654.9 1979,647.1" fill="none" stroke="#7a0aa0" stroke-width="3.0" stroke-linejoin="round" stroke-linecap="round"/><polyline points="1591.7,637.9 1658.9,636.9 1807.8,636.6 1811.3,636.5 1814,636 1816.7,635 1818.5,634 1822.1,631.3 1825.7,627.5 1830.2,621.2 1833.8,615.1 1837.3,608.2 1848.1,585.8 1852.6,576.9 1857.1,569 1860.7,563.7 1864.2,559.5 1866.9,557.3 1868.7,556.3 1870.5,555.6 1873.2,555.3 1875,555.6 1876.8,556.3 1879.5,558.2 1881.3,560 1883.1,562.2 1886.6,567.9 1890.2,574.9 1893.8,583 1907.3,617.4 1910.9,626.1 1913.5,632 1917.1,639 1919.8,643.5 1922.5,647.1 1925.2,650 1927,651.5 1928.8,652.6 1930.6,653.5 1932.4,654 1936,654.5 1943.1,654.8 1961.1,654.9 1979,651" fill="none" stroke="#7a0aa0" stroke-width="2.2" stroke-linejoin="round" stroke-linecap="round"/></g><path d="M1584.1 392H1591.7V662.3" fill="none" stroke="#000" stroke-width="3.0" stroke-linejoin="round"/><path d="M1584.1 655H1989.7" fill="none" stroke="#000" stroke-width="3.0"/><path d="M1584.1 589.2H1591.7M1584.1 523.5H1591.7M1584.1 457.8H1591.7M1681.4 655V662.3M1771 655V662.3M1860.7 655V662.3M1950.3 655V662.3" stroke="#000" stroke-width="3.3"/><g><text transform="matrix(0.9500 0 0 1.0400 1569.9 660.6)" font-size="20.6" font-weight="bold">0</text><text transform="matrix(0.9500 0 0 1.0400 1559 594.9)" font-size="20.6" font-weight="bold">10</text><text transform="matrix(0.9500 0 0 1.0400 1559 529.1)" font-size="20.6" font-weight="bold">20</text><text transform="matrix(0.9500 0 0 1.0400 1559 463.4)" font-size="20.6" font-weight="bold">30</text><text transform="matrix(0.9500 0 0 1.0400 1559 397.6)" font-size="20.6" font-weight="bold">40</text><text transform="matrix(0.9500 0 0 1.0400 1580.5 683.7)" font-size="20.6" font-weight="bold">70</text><text transform="matrix(0.9500 0 0 1.0400 1670 683.7)" font-size="20.6" font-weight="bold">75</text><text transform="matrix(0.9500 0 0 1.0400 1759.9 683.7)" font-size="20.6" font-weight="bold">80</text><text transform="matrix(0.9500 0 0 1.0400 1849.4 683.7)" font-size="20.6" font-weight="bold">85</text><text transform="matrix(0.9500 0 0 1.0400 1939.2 683.7)" font-size="20.6" font-weight="bold">90</text></g><text transform="matrix(0.7141 0 0 0.8285 1723.4 714.6)" font-size="30" font-weight="bold">Temperature</text><text transform="translate(1547.4 551.2) rotate(-90) scale(0.9638 1.0037)" font-size="22" font-weight="bold">dF/dT</text><g><text transform="matrix(1.0365 0 0 1.0070 7.6 340.6)" font-size="55">(a)</text><text transform="matrix(1.0315 0 0 1.0012 511.3 340.7)" font-size="55">(b)</text><text transform="matrix(1.0452 0 0 1.0070 1007.2 340.6)" font-size="55">(c)</text><text transform="matrix(1.0365 0 0 1.0070 1507.3 340.6)" font-size="55">(d)</text><text transform="matrix(1.0315 0 0 1.0070 7.6 726.6)" font-size="55">(e)</text><text transform="matrix(1.0357 0 0 1.0012 511.3 726.7)" font-size="55">(f)</text><text transform="matrix(1.0265 0 0 1.0065 1006.4 726.6)" font-size="55">(g)</text><text transform="matrix(1.0265 0 0 1.0070 1507 726.6)" font-size="55">(h)</text><text transform="matrix(1.0493 0 0 0.9992 1531.6 1134.2)" font-size="55">(i)</text><text transform="matrix(1.0398 0 0 0.9987 1914.5 1134.2)" font-size="55">(j)</text></g><g><path d="M635.3 809.6H1526.2" stroke="#000" stroke-width="2.3"/><path d="M8.6 856.2H1526.2" stroke="#000" stroke-width="3.6"/><path d="M8.6 905.6H1526.2" stroke="#000" stroke-width="2.3"/><path d="M8.6 951.8H1526.2" stroke="#000" stroke-width="3.6"/><path d="M8.6 999.5H1526.2" stroke="#000" stroke-width="2.3"/><path d="M8.6 1047.4H1526.2" stroke="#000" stroke-width="2.3"/><path d="M8.6 1093.2H1526.2" stroke="#000" stroke-width="2.3"/><path d="M859.6 761V1142.6" stroke="#000" stroke-width="2.3"/><path d="M1081.8 761V1142.6" stroke="#000" stroke-width="2.3"/><path d="M1305.6 761V1142.6" stroke="#000" stroke-width="2.3"/><path d="M971.6 809.6V1142.6" stroke="#000" stroke-width="2.3"/><path d="M1415.6 809.6V1142.6" stroke="#000" stroke-width="2.3"/><path d="M747.6 809.6V856.2" stroke="#000" stroke-width="2.3"/><path d="M747.6 951.8V1142.6" stroke="#000" stroke-width="2.3"/><path d="M1193.8 809.6V905.6" stroke="#000" stroke-width="2.3"/><path d="M1193.8 951.8V1142.6" stroke="#000" stroke-width="2.3"/><path d="M8.6 761H1526.2V1142.6H8.6Z" fill="none" stroke="#000" stroke-width="2.6"/><path d="M7.4 1142.6H1527.7" stroke="#000" stroke-width="4.2"/><path d="M1526.2 759.8V1144.1" stroke="#000" stroke-width="3.8"/><path d="M635.3 759.8V1144.1" stroke="#000" stroke-width="6.2"/><rect x="746.5" y="759" width="1.8" height="4" fill="#fff"/><rect x="970.7" y="759" width="1.8" height="4" fill="#fff"/><rect x="1192.3" y="759" width="1.8" height="4" fill="#fff"/><rect x="1414.5" y="759" width="1.8" height="4" fill="#fff"/><g fill="#000"><text transform="matrix(1.1523 0 0 1.1270 109 847)" font-size="30">LAMP Primer Combinations</text><text transform="matrix(1.0400 0 0 1.0400 671.2 796.6)" font-size="34.0">plasmid-Z</text><text transform="matrix(1.0400 0 0 1.0400 881.8 796.6)" font-size="34.0">plasmid-K+</text><text transform="matrix(1.0400 0 0 1.0400 1110.2 796.6)" font-size="34.0">genomic-Z</text><text transform="matrix(1.0400 0 0 1.0400 1320.2 796.6)" font-size="34.0">genomic-K+</text><text transform="matrix(0.9700 0 0 1.0362 643 844.5)" font-size="34.0" letter-spacing="0.709" font-weight="bold">Av. Ct</text><text transform="matrix(1.1215 0 0 1.1457 781.3 844.6)" font-size="30">SD</text><text transform="matrix(0.9700 0 0 1.0362 864.6 844.5)" font-size="34.0" letter-spacing="0.823" font-weight="bold">Av. Ct</text><text transform="matrix(1.1343 0 0 1.1457 1002.7 844.6)" font-size="30">SD</text><text transform="matrix(0.9700 0 0 1.0362 1086.6 844.5)" font-size="34.0" letter-spacing="1.317" font-weight="bold">Av. Ct</text><text transform="matrix(1.2012 0 0 1.1457 1224.7 844.6)" font-size="30">SD</text><text transform="matrix(0.9700 0 0 1.0362 1310.9 844.5)" font-size="34.0" letter-spacing="0.812" font-weight="bold">Av. Ct</text><text transform="matrix(1.1318 0 0 1.1457 1449.2 844.6)" font-size="30">SD</text><text transform="matrix(1.1507 0 0 1.1224 410.9 892.4)" font-size="30">LAMP primers</text><text transform="matrix(1.1821 0 0 1.0626 665.7 892.4)" font-size="30" font-weight="bold">No Result</text><text transform="matrix(1.0000 0 0 1.0400 873.1 892.4)" font-size="34.0" font-weight="bold">53.11</text><text transform="matrix(1.0000 0 0 1.0400 993.6 892.4)" font-size="34.0">9.47</text><text transform="matrix(1.0000 0 0 1.0400 1104.7 892.4)" font-size="34.0" font-weight="bold">36.9</text><text transform="matrix(1.0000 0 0 1.0400 1216.6 892.4)" font-size="34.0">7.29</text><text transform="matrix(1.0000 0 0 1.0400 1318.1 892.4)" font-size="34.0" font-weight="bold">84.08</text><text transform="matrix(1.1413 0 0 1.1224 283.5 940.4)" font-size="30">LAMP + Loop F primer</text><text transform="matrix(1.1821 0 0 1.0626 665.7 940.4)" font-size="30" font-weight="bold">No Result</text><text transform="matrix(1.0000 0 0 1.0400 873.1 940.4)" font-size="34.0" font-weight="bold">28.33</text><text transform="matrix(1.0000 0 0 1.0400 993.6 940.4)" font-size="34.0">3.75</text><text transform="matrix(1.1734 0 0 1.0626 1112.6 940.4)" font-size="30" font-weight="bold">No Result</text><text transform="matrix(1.0000 0 0 1.0400 1318.1 940.4)" font-size="34.0" font-weight="bold">62.87</text><text transform="matrix(1.0000 0 0 1.0400 1427.5 940.4)" font-size="34.0">11.21</text><text transform="matrix(1.1408 0 0 1.1822 404.1 988.8)" font-size="30">LAMP + Loops</text><text transform="matrix(1.0000 0 0 1.0400 650.3 988.8)" font-size="34.0" font-weight="bold">15.49</text><text transform="matrix(1.0000 0 0 1.0400 770.5 988.8)" font-size="34.0">0.46</text><text transform="matrix(1.0000 0 0 1.0400 873.1 988.8)" font-size="34.0" font-weight="bold">15.17</text><text transform="matrix(1.0000 0 0 1.0400 993.6 988.8)" font-size="34.0">2.22</text><text transform="matrix(1.0000 0 0 1.0400 1095.3 988.8)" font-size="34.0" font-weight="bold">34.88</text><text transform="matrix(1.0000 0 0 1.0400 1216.6 988.8)" font-size="34.0">8.38</text><text transform="matrix(1.0000 0 0 1.0400 1318.1 988.8)" font-size="34.0" font-weight="bold">24.82</text><text transform="matrix(1.0000 0 0 1.0400 1436.9 988.8)" font-size="34.0">5.13</text><text transform="matrix(1.1500 0 0 1.1224 214.7 1034.8)" font-size="30">LAMP + Loops + F3 primer</text><text transform="matrix(1.0000 0 0 1.0400 650.3 1034.8)" font-size="34.0" font-weight="bold">13.81</text><text transform="matrix(1.0000 0 0 1.0400 770.5 1034.8)" font-size="34.0">0.03</text><text transform="matrix(1.0000 0 0 1.0400 873.1 1034.8)" font-size="34.0" font-weight="bold">13.81</text><text transform="matrix(1.0000 0 0 1.0400 993.6 1034.8)" font-size="34.0">1.11</text><text transform="matrix(1.0000 0 0 1.0400 1095.3 1034.8)" font-size="34.0" font-weight="bold">17.56</text><text transform="matrix(1.0000 0 0 1.0400 1216.6 1034.8)" font-size="34.0">0.61</text><text transform="matrix(1.0000 0 0 1.0400 1318.1 1034.8)" font-size="34.0" font-weight="bold">17.73</text><text transform="matrix(1.0000 0 0 1.0400 1436.9 1034.8)" font-size="34.0">0.63</text><text transform="matrix(1.1519 0 0 1.1224 212.1 1081.6)" font-size="30">LAMP + Loops + B3 primer</text><text transform="matrix(1.0000 0 0 1.0400 650.3 1081.6)" font-size="34.0" font-weight="bold">13.12</text><text transform="matrix(1.0000 0 0 1.0400 770.5 1081.6)" font-size="34.0">0.12</text><text transform="matrix(1.0000 0 0 1.0400 873.1 1081.6)" font-size="34.0" font-weight="bold">13.51</text><text transform="matrix(1.0000 0 0 1.0400 993.6 1081.6)" font-size="34.0">1.62</text><text transform="matrix(1.0000 0 0 1.0400 1095.3 1081.6)" font-size="34.0" font-weight="bold">65.44</text><text transform="matrix(1.0000 0 0 1.0400 1207.2 1081.6)" font-size="34.0">22.63</text><text transform="matrix(1.0000 0 0 1.0400 1318.1 1081.6)" font-size="34.0" font-weight="bold">19.56</text><text transform="matrix(1.0000 0 0 1.0400 1436.9 1081.6)" font-size="34.0">4.63</text><text transform="matrix(1.1629 0 0 1.1224 22.6 1127.6)" font-size="30">LAMP + Loops + Displacement primers</text><text transform="matrix(1.0000 0 0 1.0400 650.3 1127.6)" font-size="34.0" font-weight="bold">12.52</text><text transform="matrix(1.0000 0 0 1.0400 770.5 1127.6)" font-size="34.0">0.23</text><text transform="matrix(1.0000 0 0 1.0400 873.1 1127.6)" font-size="34.0" font-weight="bold">11.84</text><text transform="matrix(1.0000 0 0 1.0400 993.6 1127.6)" font-size="34.0">0.15</text><text transform="matrix(1.0000 0 0 1.0400 1095.3 1127.6)" font-size="34.0" font-weight="bold">12.10</text><text transform="matrix(1.0000 0 0 1.0400 1216.6 1127.6)" font-size="34.0">0.13</text><text transform="matrix(1.0000 0 0 1.0400 1318.1 1127.6)" font-size="34.0" font-weight="bold">13.65</text><text transform="matrix(1.0000 0 0 1.0400 1436.9 1127.6)" font-size="34.0">0.76</text></g></g><g fill="#1a1a1a"><path d="M1591.5 832.5H1637.1" stroke="#660c8e" stroke-width="3.6"/><text transform="matrix(0.9864 0 0 1.0028 1659.3 841.7)" font-size="30">LAMP only</text><path d="M1591.5 870.8H1637.1" stroke="#a06c28" stroke-width="3.6"/><text transform="matrix(1.0028 0 0 1.0562 1659.2 880)" font-size="30">LAMP + Loop F</text><path d="M1591.5 910.6H1637.1" stroke="#0a14e6" stroke-width="3.6"/><text transform="matrix(1.0029 0 0 1.0407 1659.2 919.8)" font-size="30">LAMP + Loops + F3</text><path d="M1591.5 946H1637.1" stroke="#1eb428" stroke-width="3.6"/><text transform="matrix(0.9965 0 0 1.0407 1659.2 955.2)" font-size="30">LAMP + Loops + B3</text><path d="M1593 985.4H1638.6" stroke="#82b4f0" stroke-width="3.6"/><text transform="matrix(0.9965 0 0 1.0562 1661.5 994.6)" font-size="30">LAMP + Loops</text><path d="M1591.5 1027.6H1637.1" stroke="#ff8214" stroke-width="3.6"/><text transform="matrix(0.9989 0 0 1.0028 1659.2 1036.8)" font-size="30">LAMP + Loops + Disp</text><path d="M1591.5 1069.2H1637.1" stroke="#f00a0a" stroke-width="3.6"/><text transform="matrix(0.9888 0 0 1.0407 1659.3 1078.4)" font-size="30">NTC</text></g>
</svg>
</body></html>
